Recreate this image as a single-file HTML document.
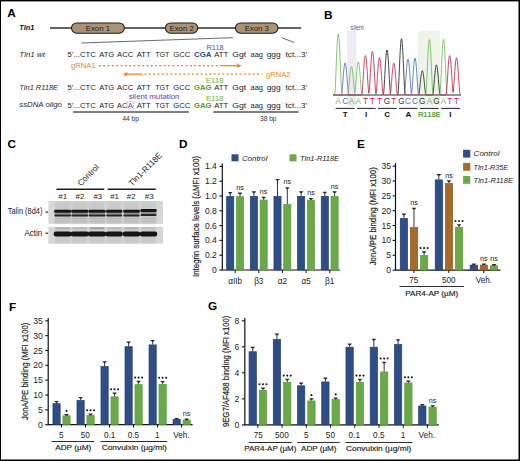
<!DOCTYPE html>
<html><head><meta charset="utf-8"><style>
html,body{margin:0;padding:0;background:#fff;width:520px;height:461px;overflow:hidden}
svg{display:block;font-family:"Liberation Sans", sans-serif}
</style></head><body>
<svg width="520" height="461" viewBox="0 0 520 461">
<rect x="0" y="0" width="520" height="461" fill="#000"/>
<rect x="1" y="1.4" width="517.5" height="458.1" fill="#fff"/>
<text x="7.30" y="17.00" font-size="11.8" text-anchor="start" fill="#000" font-weight="bold">A</text>
<text x="324.00" y="18.80" font-size="11.8" text-anchor="start" fill="#000" font-weight="bold">B</text>
<text x="7.60" y="147.90" font-size="11.8" text-anchor="start" fill="#000" font-weight="bold">C</text>
<text x="178.90" y="147.70" font-size="11.8" text-anchor="start" fill="#000" font-weight="bold">D</text>
<text x="356.90" y="147.70" font-size="11.8" text-anchor="start" fill="#000" font-weight="bold">E</text>
<text x="8.90" y="310.50" font-size="11.8" text-anchor="start" fill="#000" font-weight="bold">F</text>
<text x="208.00" y="309.50" font-size="11.8" text-anchor="start" fill="#000" font-weight="bold">G</text>
<text x="19.30" y="30.10" font-size="7.6" text-anchor="start" fill="#111" font-weight="bold" font-style="italic" textLength="15.20" lengthAdjust="spacingAndGlyphs">Tln1</text>
<line x1="50.00" y1="28.00" x2="301.20" y2="28.00" stroke="#303030" stroke-width="1.4" />
<rect x="71.50" y="22.9" width="52.90" height="10.3" rx="5.1" fill="#a99374" stroke="#1e1e1e" stroke-width="1.05"/>
<text x="97.90" y="31.00" font-size="7.8" text-anchor="middle" fill="#1a1a1a">Exon 1</text>
<rect x="165.40" y="22.9" width="32.30" height="10.3" rx="5.1" fill="#a99374" stroke="#1e1e1e" stroke-width="1.05"/>
<text x="181.60" y="31.00" font-size="7.8" text-anchor="middle" fill="#1a1a1a">Exon 2</text>
<rect x="235.40" y="22.9" width="42.60" height="10.3" rx="5.1" fill="#a99374" stroke="#1e1e1e" stroke-width="1.05"/>
<text x="256.80" y="31.00" font-size="7.8" text-anchor="middle" fill="#1a1a1a">Exon 3</text>
<line x1="81.20" y1="43.00" x2="232.80" y2="37.70" stroke="#5a5a5a" stroke-width="0.9" />
<line x1="281.50" y1="37.70" x2="294.40" y2="42.50" stroke="#5a5a5a" stroke-width="0.9" />
<text x="19.30" y="57.00" font-size="8.0" text-anchor="start" fill="#2a2a2a" font-style="italic" textLength="25.60" lengthAdjust="spacingAndGlyphs">Tln1 wt</text>
<text x="19.30" y="89.90" font-size="8.0" text-anchor="start" fill="#2a2a2a" font-style="italic" textLength="38.80" lengthAdjust="spacingAndGlyphs">Tln1 R118E</text>
<text x="19.30" y="107.40" font-size="8.0" text-anchor="start" fill="#2a2a2a" font-style="italic" textLength="42.60" lengthAdjust="spacingAndGlyphs">ssDNA oligo</text>
<text x="67.50" y="57.10" font-size="7.9" text-anchor="start" fill="#222" textLength="28.40" lengthAdjust="spacingAndGlyphs">5’...CTC</text>
<text x="99.20" y="57.10" font-size="7.9" text-anchor="start" fill="#222" textLength="14.90" lengthAdjust="spacingAndGlyphs">ATG</text>
<text x="117.10" y="57.10" font-size="7.9" text-anchor="start" fill="#222" textLength="16.30" lengthAdjust="spacingAndGlyphs">ACC</text>
<text x="136.70" y="57.10" font-size="7.9" text-anchor="start" fill="#222" textLength="14.00" lengthAdjust="spacingAndGlyphs">ATT</text>
<text x="155.20" y="57.10" font-size="7.9" text-anchor="start" fill="#222" textLength="14.30" lengthAdjust="spacingAndGlyphs">TGT</text>
<text x="173.30" y="57.10" font-size="7.9" text-anchor="start" fill="#222" textLength="17.00" lengthAdjust="spacingAndGlyphs">GCC</text>
<text x="194.00" y="57.10" font-size="7.9" text-anchor="start" fill="#1f4a8c" font-weight="bold" textLength="17.50" lengthAdjust="spacingAndGlyphs">CGA</text>
<text x="214.20" y="57.10" font-size="7.9" text-anchor="start" fill="#222" textLength="14.00" lengthAdjust="spacingAndGlyphs">ATT</text>
<text x="232.30" y="57.10" font-size="7.9" text-anchor="start" fill="#222" textLength="13.80" lengthAdjust="spacingAndGlyphs">Ggt</text>
<text x="250.60" y="57.10" font-size="7.9" text-anchor="start" fill="#222" textLength="12.40" lengthAdjust="spacingAndGlyphs">aag</text>
<text x="266.70" y="57.10" font-size="7.9" text-anchor="start" fill="#222" textLength="14.00" lengthAdjust="spacingAndGlyphs">ggg</text>
<text x="285.60" y="57.10" font-size="7.9" text-anchor="start" fill="#222" textLength="21.60" lengthAdjust="spacingAndGlyphs">tct...3’</text>
<text x="67.50" y="90.30" font-size="7.9" text-anchor="start" fill="#222" textLength="28.40" lengthAdjust="spacingAndGlyphs">5’...CTC</text>
<text x="99.20" y="90.30" font-size="7.9" text-anchor="start" fill="#222" textLength="14.90" lengthAdjust="spacingAndGlyphs">ATG</text>
<text x="117.10" y="90.30" font-size="7.9" text-anchor="start" fill="#222" textLength="16.30" lengthAdjust="spacingAndGlyphs">ACC</text>
<text x="136.70" y="90.30" font-size="7.9" text-anchor="start" fill="#222" textLength="14.00" lengthAdjust="spacingAndGlyphs">ATT</text>
<text x="155.20" y="90.30" font-size="7.9" text-anchor="start" fill="#222" textLength="14.30" lengthAdjust="spacingAndGlyphs">TGT</text>
<text x="173.30" y="90.30" font-size="7.9" text-anchor="start" fill="#222" textLength="17.00" lengthAdjust="spacingAndGlyphs">GCC</text>
<text x="194.00" y="90.30" font-size="7.9" text-anchor="start" fill="#4f9a2e" font-weight="bold" textLength="17.50" lengthAdjust="spacingAndGlyphs">GAG</text>
<text x="214.20" y="90.30" font-size="7.9" text-anchor="start" fill="#222" textLength="14.00" lengthAdjust="spacingAndGlyphs">ATT</text>
<text x="232.30" y="90.30" font-size="7.9" text-anchor="start" fill="#222" textLength="13.80" lengthAdjust="spacingAndGlyphs">Ggt</text>
<text x="250.60" y="90.30" font-size="7.9" text-anchor="start" fill="#222" textLength="12.40" lengthAdjust="spacingAndGlyphs">aag</text>
<text x="266.70" y="90.30" font-size="7.9" text-anchor="start" fill="#222" textLength="14.00" lengthAdjust="spacingAndGlyphs">ggg</text>
<text x="285.60" y="90.30" font-size="7.9" text-anchor="start" fill="#222" textLength="21.60" lengthAdjust="spacingAndGlyphs">tct...3’</text>
<text x="67.50" y="107.50" font-size="7.9" text-anchor="start" fill="#222" textLength="28.40" lengthAdjust="spacingAndGlyphs">5’...CTC</text>
<text x="99.20" y="107.50" font-size="7.9" text-anchor="start" fill="#222" textLength="14.90" lengthAdjust="spacingAndGlyphs">ATG</text>
<text x="117.10" y="107.50" font-size="7.9" text-anchor="start" fill="#222" textLength="10.00" lengthAdjust="spacingAndGlyphs">AC</text>
<text x="127.70" y="107.50" font-size="7.9" text-anchor="start" fill="#6b3e98">A</text>
<text x="136.70" y="107.50" font-size="7.9" text-anchor="start" fill="#222" textLength="14.00" lengthAdjust="spacingAndGlyphs">ATT</text>
<text x="155.20" y="107.50" font-size="7.9" text-anchor="start" fill="#222" textLength="14.30" lengthAdjust="spacingAndGlyphs">TGT</text>
<text x="173.30" y="107.50" font-size="7.9" text-anchor="start" fill="#222" textLength="17.00" lengthAdjust="spacingAndGlyphs">GCC</text>
<text x="194.00" y="107.50" font-size="7.9" text-anchor="start" fill="#4f9a2e" font-weight="bold" textLength="17.50" lengthAdjust="spacingAndGlyphs">GAG</text>
<text x="214.20" y="107.50" font-size="7.9" text-anchor="start" fill="#222" textLength="14.00" lengthAdjust="spacingAndGlyphs">ATT</text>
<text x="232.30" y="107.50" font-size="7.9" text-anchor="start" fill="#222" textLength="13.80" lengthAdjust="spacingAndGlyphs">Ggt</text>
<text x="250.60" y="107.50" font-size="7.9" text-anchor="start" fill="#222" textLength="12.40" lengthAdjust="spacingAndGlyphs">aag</text>
<text x="266.70" y="107.50" font-size="7.9" text-anchor="start" fill="#222" textLength="14.00" lengthAdjust="spacingAndGlyphs">ggg</text>
<text x="285.60" y="107.50" font-size="7.9" text-anchor="start" fill="#222" textLength="21.60" lengthAdjust="spacingAndGlyphs">tct...3’</text>
<rect x="127.2" y="101.6" width="6.4" height="7.0" fill="none" stroke="#7a5aa8" stroke-width="0.6" stroke-dasharray="0.8 0.8"/>
<text x="206.50" y="49.80" font-size="7.0" text-anchor="start" fill="#3b62a8" textLength="17.20" lengthAdjust="spacingAndGlyphs">R118</text>
<text x="205.70" y="83.20" font-size="7.0" text-anchor="start" fill="#6db34a" textLength="18.00" lengthAdjust="spacingAndGlyphs">E118</text>
<text x="206.00" y="100.90" font-size="7.0" text-anchor="start" fill="#6db34a" textLength="17.70" lengthAdjust="spacingAndGlyphs">E118</text>
<text x="128.70" y="99.00" font-size="7.0" text-anchor="start" fill="#6b3e98" textLength="50.80" lengthAdjust="spacingAndGlyphs">silent mutation</text>
<text x="71.00" y="68.00" font-size="7.9" text-anchor="start" fill="#e08c28" textLength="24.40" lengthAdjust="spacingAndGlyphs">gRNA1</text>
<line x1="98.80" y1="65.70" x2="223.00" y2="65.70" stroke="#e08c28" stroke-width="1.3" stroke-dasharray="2.1 2.23"/>
<line x1="222.50" y1="65.70" x2="238.50" y2="65.70" stroke="#e08c28" stroke-width="1.3" />
<path d="M241.6 65.7 L236.6 63.2 L237.8 65.7 L236.6 68.2 Z" fill="#e08c28"/>
<line x1="144.30" y1="74.20" x2="261.80" y2="74.20" stroke="#e08c28" stroke-width="1.3" stroke-dasharray="2.1 2.23"/>
<line x1="125.50" y1="74.20" x2="142.60" y2="74.20" stroke="#e08c28" stroke-width="1.3" />
<path d="M122.8 74.2 L127.8 71.7 L126.6 74.2 L127.8 76.7 Z" fill="#e08c28"/>
<text x="266.00" y="77.00" font-size="7.9" text-anchor="start" fill="#e08c28" textLength="24.40" lengthAdjust="spacingAndGlyphs">gRNA2</text>
<line x1="73.10" y1="111.90" x2="188.80" y2="111.90" stroke="#555" stroke-width="1.5" />
<line x1="213.30" y1="111.90" x2="298.40" y2="111.90" stroke="#555" stroke-width="1.5" />
<text x="130.70" y="120.60" font-size="6.6" text-anchor="middle" fill="#333">44 bp</text>
<text x="268.30" y="121.20" font-size="6.6" text-anchor="middle" fill="#333">38 bp</text>
<rect x="347.80" y="31.20" width="8.00" height="74.60" fill="#efebf3" stroke="#d6cde2" stroke-width="0.5" stroke-dasharray="0.8 0.8"/>
<rect x="418.10" y="31.20" width="21.50" height="74.60" fill="#eef4ea" stroke="#dce8d4" stroke-width="0.5" stroke-dasharray="0.8 0.8"/>
<text x="350.60" y="29.80" font-size="6.6" text-anchor="start" fill="#6a4c92" textLength="13.20" lengthAdjust="spacingAndGlyphs">silent</text>
<polyline points="333.00,95.01 333.20,95.02 333.40,95.04 333.60,95.06 333.80,95.08 334.00,95.09 334.20,95.07 334.40,95.04 334.60,95.02 334.80,95.01 335.00,95.00 335.20,95.00 335.40,95.01 335.60,95.02 335.80,95.04 336.00,95.06 336.20,95.08 336.40,95.09 336.60,95.07 336.80,95.04 337.00,95.02 337.20,95.01 337.40,95.00 337.60,95.00 337.80,95.01 338.00,95.02 338.20,95.03 338.40,95.05 338.60,95.08 338.80,95.09 339.00,95.07 339.20,95.05 339.40,95.03 339.60,95.01 339.80,95.00 340.00,95.00 340.20,95.00 340.40,95.02 340.60,95.03 340.80,95.05 341.00,95.08 341.20,95.10 341.40,95.07 341.60,95.05 341.80,95.03 342.00,95.01 342.20,95.00 342.40,95.00 342.60,95.00 342.80,95.01 343.00,95.03 343.20,95.05 343.40,95.08 343.60,95.10 343.80,95.07 344.00,95.05 344.20,95.03 344.40,95.01 344.60,95.00 344.80,95.00 345.00,95.00 345.20,95.01 345.40,95.03 345.60,95.05 345.80,95.07 346.00,95.10 346.20,95.08 346.40,95.05 346.60,95.03 346.80,95.01 347.00,95.00 347.20,95.00 347.40,95.00 347.60,95.01 347.80,95.03 348.00,95.05 348.20,95.07 348.40,95.10 348.60,95.08 348.80,95.05 349.00,95.03 349.20,95.02 349.40,95.00 349.60,95.00 349.80,95.00 350.00,95.01 350.20,95.03 350.40,95.05 350.60,95.07 350.80,95.09 351.00,95.08 351.20,95.06 351.40,95.03 351.60,95.02 351.80,95.01 352.00,95.00 352.20,95.00 352.40,95.01 352.60,95.02 352.80,95.04 353.00,95.07 353.20,95.09 353.40,95.08 353.60,95.06 353.80,95.04 354.00,95.02 354.20,95.01 354.40,95.00 354.60,95.00 354.80,95.01 355.00,95.02 355.20,95.04 355.40,95.06 355.60,95.09 355.80,95.08 356.00,95.06 356.20,95.04 356.40,95.02 356.60,95.01 356.80,95.00 357.00,95.00 357.20,95.01 357.40,95.02 357.60,95.04 357.80,95.06 358.00,95.09 358.20,95.09 358.40,95.06 358.60,95.04 358.80,95.02 359.00,95.01 359.20,95.00 359.40,95.00 359.60,95.01 359.80,95.02 360.00,95.04 360.20,95.06 360.40,95.09 360.60,95.09 360.80,95.06 361.00,95.04 361.20,95.02 361.40,95.01 361.60,95.00 361.80,95.00 362.00,95.01 362.20,95.02 362.40,95.04 362.60,95.06 362.80,95.08 363.00,95.09 363.20,95.07 363.40,95.04 363.60,95.02 363.80,95.01 364.00,95.00 364.20,95.00 364.40,95.01 364.60,95.02 364.80,95.04 365.00,95.06 365.20,95.08 365.40,95.09 365.60,95.07 365.80,95.04 366.00,95.02 366.20,95.01 366.40,95.00 366.60,95.00 366.80,95.01 367.00,95.02 367.20,95.03 367.40,95.05 367.60,95.08 367.80,95.09 368.00,95.07 368.20,95.05 368.40,95.03 368.60,95.01 368.80,95.00 369.00,95.00 369.20,95.00 369.40,95.02 369.60,95.03 369.80,95.05 370.00,95.08 370.20,95.10 370.40,95.07 370.60,95.05 370.80,95.03 371.00,95.01 371.20,95.00 371.40,95.00 371.60,95.00 371.80,95.01 372.00,95.03 372.20,95.05 372.40,95.08 372.60,95.10 372.80,95.07 373.00,95.05 373.20,95.03 373.40,95.01 373.60,95.00 373.80,95.00 374.00,95.00 374.20,95.01 374.40,95.03 374.60,95.05 374.80,95.07 375.00,95.10 375.20,95.08 375.40,95.05 375.60,95.03 375.80,95.01 376.00,95.00 376.20,95.00 376.40,95.00 376.60,95.01 376.80,95.03 377.00,95.05 377.20,95.07 377.40,95.10 377.60,95.08 377.80,95.05 378.00,95.03 378.20,95.02 378.40,95.00 378.60,95.00 378.80,95.00 379.00,95.01 379.20,95.03 379.40,95.05 379.60,95.07 379.80,95.09 380.00,95.08 380.20,95.06 380.40,95.03 380.60,95.02 380.80,95.01 381.00,95.00 381.20,95.00 381.40,95.01 381.60,95.02 381.80,95.04 382.00,95.07 382.20,95.09 382.40,95.08 382.60,95.06 382.80,95.04 383.00,95.02 383.20,95.01 383.40,94.72 383.60,93.57 383.80,91.68 384.00,89.18 384.20,86.21 384.40,82.90 384.60,79.37 384.80,75.69 385.00,71.97 385.20,68.33 385.40,64.84 385.60,61.60 385.80,58.66 386.00,56.09 386.20,53.92 386.40,52.20 386.60,50.96 386.80,50.22 387.00,49.99 387.20,50.24 387.40,50.98 387.60,52.22 387.80,53.93 388.00,56.09 388.20,58.66 388.40,61.60 388.60,64.83 388.80,68.31 389.00,71.95 389.20,75.66 389.40,79.37 389.60,82.93 389.80,86.23 390.00,89.20 390.20,91.69 390.40,93.58 390.60,94.72 390.80,95.00 391.00,95.01 391.20,95.02 391.40,95.04 391.60,95.06 391.80,95.08 392.00,95.09 392.20,95.07 392.40,95.04 392.60,95.02 392.80,95.01 393.00,95.00 393.20,95.00 393.40,95.01 393.60,95.02 393.80,95.04 394.00,95.06 394.20,95.08 394.40,95.09 394.60,95.07 394.80,95.04 395.00,95.02 395.20,95.01 395.40,95.00 395.60,95.00 395.80,95.01 396.00,95.02 396.20,95.03 396.40,95.06 396.60,95.08 396.80,95.09 397.00,95.07 397.20,95.05 397.40,95.03 397.60,95.01 397.80,94.96 398.00,94.06 398.20,92.13 398.40,89.36 398.60,85.92 398.80,81.97 399.00,77.67 399.20,73.15 399.40,68.50 399.60,63.89 399.80,59.43 400.00,55.22 400.20,51.34 400.40,47.89 400.60,44.91 400.80,42.48 401.00,40.62 401.20,39.37 401.40,38.76 401.60,38.78 401.80,39.39 402.00,40.64 402.20,42.49 402.40,44.92 402.60,47.89 402.80,51.34 403.00,55.21 403.20,59.41 403.40,63.87 403.60,68.48 403.80,73.12 404.00,77.69 404.20,81.99 404.40,85.94 404.60,89.38 404.80,92.14 405.00,94.07 405.20,94.96 405.40,95.00 405.60,95.01 405.80,95.03 406.00,95.05 406.20,95.07 406.40,95.10 406.60,95.08 406.80,95.05 407.00,95.03 407.20,95.02 407.40,95.00 407.60,95.00 407.80,95.00 408.00,95.01 408.20,95.03 408.40,95.05 408.60,95.07 408.80,95.09 409.00,95.08 409.20,95.06 409.40,95.03 409.60,95.02 409.80,95.01 410.00,95.00 410.20,95.00 410.40,95.01 410.60,95.02 410.80,95.04 411.00,95.07 411.20,95.09 411.40,95.08 411.60,95.06 411.80,95.04 412.00,95.02 412.20,95.01 412.40,95.00 412.60,95.00 412.80,95.01 413.00,95.02 413.20,95.04 413.40,95.06 413.60,95.09 413.80,95.08 414.00,95.06 414.20,95.04 414.40,95.02 414.60,95.01 414.80,95.00 415.00,95.00 415.20,95.01 415.40,95.02 415.60,95.04 415.80,95.06 416.00,95.09 416.20,95.09 416.40,95.06 416.60,95.04 416.80,95.02 417.00,95.01 417.20,95.00 417.40,95.00 417.60,95.01 417.80,95.02 418.00,95.04 418.20,95.06 418.40,95.09 418.60,95.07 418.80,94.66 419.00,93.80 419.20,92.59 419.40,91.08 419.60,89.37 419.80,87.50 420.00,85.55 420.20,83.57 420.40,81.61 420.60,79.72 420.80,77.94 421.00,76.28 421.20,74.77 421.40,73.46 421.60,72.39 421.80,71.57 422.00,71.01 422.20,70.73 422.40,70.74 422.60,71.03 422.80,71.59 423.00,72.42 423.20,73.50 423.40,74.79 423.60,76.26 423.80,77.90 424.00,79.69 424.20,81.58 424.40,83.55 424.60,85.54 424.80,87.51 425.00,89.38 425.20,91.11 425.40,92.62 425.60,93.84 425.80,94.69 426.00,95.05 426.20,95.05 426.40,95.03 426.60,95.01 426.80,95.00 427.00,95.00 427.20,95.00 427.40,95.02 427.60,95.03 427.80,95.05 428.00,95.08 428.20,95.10 428.40,95.07 428.60,95.05 428.80,95.03 429.00,95.01 429.20,95.00 429.40,95.00 429.60,95.00 429.80,95.01 430.00,95.03 430.20,95.05 430.40,95.08 430.60,95.10 430.80,95.07 431.00,95.05 431.20,95.03 431.40,95.01 431.60,95.00 431.80,95.00 432.00,95.00 432.20,95.01 432.40,95.03 432.60,95.05 432.80,94.89 433.00,94.15 433.20,92.85 433.40,91.15 433.60,89.14 433.80,86.90 434.00,84.51 434.20,82.05 434.40,79.59 434.60,77.18 434.80,74.89 435.00,72.75 435.20,70.82 435.40,69.13 435.60,67.65 435.80,66.47 436.00,65.61 436.20,65.09 436.40,64.90 436.60,65.07 436.80,65.58 437.00,66.43 437.20,67.60 437.40,69.07 437.60,70.82 437.80,72.80 438.00,74.94 438.20,77.23 438.40,79.62 438.60,82.07 438.80,84.51 439.00,86.88 439.20,89.11 439.40,91.11 439.60,92.80 439.80,94.09 440.00,94.88 440.20,95.09 440.40,95.08 440.60,95.06 440.80,95.04 441.00,95.02 441.20,95.01 441.40,95.00 441.60,95.00 441.80,95.01 442.00,95.02 442.20,95.04 442.40,95.07 442.60,95.09 442.80,95.08 443.00,95.06 443.20,95.04 443.40,95.02 443.60,95.01 443.80,95.00 444.00,95.00 444.20,95.01 444.40,95.02 444.60,95.04 444.80,95.06 445.00,95.09 445.20,95.09 445.40,95.06 445.60,95.04 445.80,95.02 446.00,95.01 446.20,95.00 446.40,95.00 446.60,95.01 446.80,95.02 447.00,95.04 447.20,95.06 447.40,95.09 447.60,95.09 447.80,95.06 448.00,95.04 448.20,95.02 448.40,95.01 448.60,95.00 448.80,95.00 449.00,95.01 449.20,95.02 449.40,95.04 449.60,95.06 449.80,95.08 450.00,95.09 450.20,95.06 450.40,95.04 450.60,95.02 450.80,95.01 451.00,95.00 451.20,95.00 451.40,95.01 451.60,95.02 451.80,95.04 452.00,95.06 452.20,95.08 452.40,95.09 452.60,95.07 452.80,95.04 453.00,95.02 453.20,95.01 453.40,95.00 453.60,95.00 453.80,95.01 454.00,95.02 454.20,95.03 454.40,95.06 454.60,95.08 454.80,95.09 455.00,95.07 455.20,95.05 455.40,95.03 455.60,95.01 455.80,95.00 456.00,95.00 456.20,95.00 456.40,95.02 456.60,95.03 456.80,95.05 457.00,95.08 457.20,95.10 457.40,95.07 457.60,95.05 457.80,95.03 458.00,95.01 458.20,95.00 458.40,95.00 458.60,95.00 458.80,95.01 459.00,95.03 459.20,95.05 459.40,95.08 459.60,95.10 459.80,95.07 460.00,95.05 460.20,95.03 460.40,95.01 460.60,95.00" fill="none" stroke="#222222" stroke-width="0.85" stroke-linejoin="round"/>
<polyline points="333.00,95.02 333.20,95.04 333.40,95.07 333.60,95.09 333.80,95.08 334.00,95.06 334.20,95.04 334.40,95.02 334.60,95.01 334.80,95.00 335.00,95.00 335.20,95.01 335.40,95.02 335.60,95.04 335.80,95.06 336.00,95.09 336.20,95.08 336.40,95.06 336.60,95.04 336.80,95.02 337.00,95.01 337.20,95.00 337.40,95.00 337.60,95.01 337.80,95.02 338.00,95.04 338.20,95.06 338.40,95.09 338.60,95.09 338.80,95.06 339.00,95.04 339.20,95.02 339.40,95.01 339.60,95.00 339.80,95.00 340.00,95.01 340.20,95.02 340.40,95.04 340.60,95.06 340.80,95.09 341.00,95.09 341.20,95.06 341.40,95.02 341.60,94.49 341.80,93.37 342.00,91.78 342.20,89.81 342.40,87.56 342.60,85.11 342.80,82.54 343.00,79.93 343.20,77.35 343.40,74.83 343.60,72.42 343.80,70.19 344.00,68.21 344.20,66.50 344.40,65.10 344.60,64.03 344.80,63.32 345.00,62.96 345.20,62.98 345.40,63.37 345.60,64.11 345.80,65.19 346.00,66.56 346.20,68.23 346.40,70.18 346.60,72.36 346.80,74.74 347.00,77.27 347.20,79.88 347.40,82.52 347.60,85.13 347.80,87.61 348.00,89.89 348.20,91.88 348.40,93.44 348.60,94.51 348.80,95.00 349.00,95.01 349.20,95.00 349.40,95.00 349.60,95.00 349.80,95.02 350.00,95.03 350.20,95.05 350.40,95.08 350.60,95.10 350.80,95.07 351.00,95.05 351.20,95.03 351.40,95.01 351.60,95.00 351.80,95.00 352.00,95.00 352.20,95.01 352.40,95.03 352.60,95.05 352.80,95.07 353.00,95.10 353.20,95.07 353.40,95.05 353.60,95.03 353.80,95.01 354.00,95.00 354.20,95.00 354.40,95.00 354.60,95.01 354.80,95.03 355.00,95.05 355.20,95.07 355.40,95.10 355.60,95.08 355.80,95.05 356.00,95.03 356.20,95.01 356.40,95.00 356.60,95.00 356.80,95.00 357.00,95.01 357.20,95.03 357.40,95.05 357.60,95.07 357.80,95.10 358.00,95.08 358.20,95.05 358.40,95.03 358.60,95.02 358.80,95.00 359.00,95.00 359.20,95.00 359.40,95.01 359.60,95.03 359.80,95.05 360.00,95.07 360.20,95.09 360.40,95.08 360.60,95.06 360.80,95.03 361.00,95.02 361.20,95.01 361.40,95.00 361.60,95.00 361.80,95.01 362.00,95.02 362.20,95.04 362.40,95.07 362.60,95.09 362.80,95.08 363.00,95.06 363.20,95.04 363.40,95.02 363.60,95.01 363.80,95.00 364.00,95.00 364.20,95.01 364.40,95.02 364.60,95.04 364.80,95.06 365.00,95.09 365.20,95.08 365.40,95.06 365.60,95.04 365.80,95.02 366.00,95.01 366.20,95.00 366.40,95.00 366.60,95.01 366.80,95.02 367.00,95.04 367.20,95.06 367.40,95.09 367.60,95.09 367.80,95.06 368.00,95.04 368.20,95.02 368.40,95.01 368.60,95.00 368.80,95.00 369.00,95.01 369.20,95.02 369.40,95.04 369.60,95.06 369.80,95.09 370.00,95.09 370.20,95.06 370.40,95.04 370.60,95.02 370.80,95.01 371.00,95.00 371.20,95.00 371.40,95.01 371.60,95.02 371.80,95.04 372.00,95.06 372.20,95.08 372.40,95.09 372.60,95.07 372.80,95.04 373.00,95.02 373.20,95.01 373.40,95.00 373.60,95.00 373.80,95.01 374.00,95.02 374.20,95.03 374.40,95.06 374.60,95.08 374.80,95.09 375.00,95.07 375.20,95.04 375.40,95.02 375.60,95.01 375.80,95.00 376.00,95.00 376.20,95.01 376.40,95.02 376.60,95.03 376.80,95.05 377.00,95.08 377.20,95.10 377.40,95.07 377.60,95.05 377.80,95.03 378.00,95.01 378.20,95.00 378.40,95.00 378.60,95.00 378.80,95.02 379.00,95.03 379.20,95.05 379.40,95.08 379.60,95.10 379.80,95.07 380.00,95.05 380.20,95.03 380.40,95.01 380.60,95.00 380.80,95.00 381.00,95.00 381.20,95.01 381.40,95.03 381.60,95.05 381.80,95.07 382.00,95.10 382.20,95.07 382.40,95.05 382.60,95.03 382.80,95.01 383.00,95.00 383.20,95.00 383.40,95.00 383.60,95.01 383.80,95.03 384.00,95.05 384.20,95.07 384.40,95.10 384.60,95.08 384.80,95.05 385.00,95.03 385.20,95.01 385.40,95.00 385.60,95.00 385.80,95.00 386.00,95.01 386.20,95.03 386.40,95.05 386.60,95.07 386.80,95.10 387.00,95.08 387.20,95.05 387.40,95.03 387.60,95.02 387.80,95.00 388.00,95.00 388.20,95.00 388.40,95.01 388.60,95.03 388.80,95.05 389.00,95.07 389.20,95.09 389.40,95.08 389.60,95.06 389.80,95.03 390.00,95.02 390.20,95.01 390.40,95.00 390.60,95.00 390.80,95.01 391.00,95.02 391.20,95.04 391.40,95.07 391.60,95.09 391.80,95.08 392.00,95.06 392.20,95.04 392.40,95.02 392.60,95.01 392.80,95.00 393.00,95.00 393.20,95.01 393.40,95.02 393.60,95.04 393.80,95.06 394.00,95.09 394.20,95.08 394.40,95.06 394.60,95.04 394.80,95.02 395.00,95.01 395.20,95.00 395.40,95.00 395.60,95.01 395.80,95.02 396.00,95.04 396.20,95.06 396.40,95.09 396.60,95.09 396.80,95.06 397.00,95.04 397.20,95.02 397.40,95.01 397.60,95.00 397.80,95.00 398.00,95.01 398.20,95.02 398.40,95.04 398.60,95.06 398.80,95.09 399.00,95.09 399.20,95.06 399.40,95.04 399.60,95.02 399.80,95.01 400.00,95.00 400.20,95.00 400.40,95.01 400.60,95.02 400.80,95.04 401.00,95.06 401.20,95.08 401.40,95.09 401.60,95.07 401.80,95.04 402.00,95.02 402.20,95.01 402.40,95.00 402.60,95.00 402.80,95.01 403.00,95.02 403.20,95.03 403.40,95.06 403.60,95.08 403.80,95.09 404.00,95.07 404.20,95.04 404.40,94.80 404.60,93.87 404.80,92.35 405.00,90.35 405.20,87.98 405.40,85.34 405.60,82.52 405.80,79.61 406.00,76.70 406.20,73.83 406.40,71.05 406.60,68.46 406.80,66.10 407.00,64.04 407.20,62.30 407.40,60.91 407.60,59.92 407.80,59.32 408.00,59.13 408.20,59.36 408.40,59.99 408.60,61.01 408.80,62.37 409.00,64.07 409.20,66.10 409.40,68.42 409.60,70.98 409.80,73.74 410.00,76.62 410.20,79.57 410.40,82.52 410.60,85.37 410.80,88.05 411.00,90.45 411.20,92.42 411.40,93.69 411.60,93.64 411.80,92.28 412.00,90.21 412.20,87.76 412.40,85.03 412.60,82.12 412.80,79.11 413.00,76.10 413.20,73.16 413.40,70.34 413.60,67.67 413.80,65.24 414.00,63.11 414.20,61.31 414.40,59.87 414.60,58.84 414.80,58.21 415.00,58.01 415.20,58.24 415.40,58.88 415.60,59.94 415.80,61.39 416.00,63.15 416.20,65.24 416.40,67.63 416.60,70.26 416.80,73.09 417.00,76.06 417.20,79.09 417.40,82.11 417.60,85.05 417.80,87.80 418.00,90.27 418.20,92.36 418.40,93.91 418.60,94.83 418.80,95.03 419.00,95.02 419.20,95.01 419.40,95.00 419.60,95.00 419.80,95.01 420.00,95.02 420.20,95.04 420.40,95.07 420.60,95.09 420.80,95.08 421.00,95.06 421.20,95.04 421.40,95.02 421.60,95.01 421.80,95.00 422.00,95.00 422.20,95.01 422.40,95.02 422.60,95.04 422.80,95.06 423.00,95.09 423.20,95.08 423.40,95.06 423.60,95.04 423.80,95.02 424.00,95.01 424.20,95.00 424.40,95.00 424.60,95.01 424.80,95.02 425.00,95.04 425.20,95.06 425.40,95.09 425.60,95.09 425.80,95.06 426.00,95.04 426.20,95.02 426.40,95.01 426.60,95.00 426.80,95.00 427.00,95.01 427.20,95.02 427.40,95.04 427.60,95.06 427.80,95.09 428.00,95.09 428.20,95.06 428.40,95.04 428.60,95.02 428.80,95.01 429.00,95.00 429.20,95.00 429.40,95.01 429.60,95.02 429.80,95.04 430.00,95.06 430.20,95.08 430.40,95.09 430.60,95.07 430.80,95.04 431.00,95.02 431.20,95.01 431.40,95.00 431.60,95.00 431.80,95.01 432.00,95.02 432.20,95.03 432.40,95.06 432.60,95.08 432.80,95.09 433.00,95.07 433.20,95.04 433.40,95.02 433.60,95.01 433.80,95.00 434.00,95.00 434.20,95.01 434.40,95.02 434.60,95.03 434.80,95.05 435.00,95.08 435.20,95.10 435.40,95.07 435.60,95.05 435.80,95.03 436.00,95.01 436.20,95.00 436.40,95.00 436.60,95.00 436.80,95.02 437.00,95.03 437.20,95.05 437.40,95.08 437.60,95.10 437.80,95.07 438.00,95.05 438.20,95.03 438.40,95.01 438.60,95.00 438.80,95.00 439.00,95.00 439.20,95.01 439.40,95.03 439.60,95.05 439.80,95.07 440.00,95.10 440.20,95.07 440.40,95.05 440.60,95.03 440.80,95.01 441.00,95.00 441.20,95.00 441.40,95.00 441.60,95.01 441.80,95.03 442.00,95.05 442.20,95.07 442.40,95.10 442.60,95.08 442.80,95.05 443.00,95.03 443.20,95.01 443.40,95.00 443.60,95.00 443.80,95.00 444.00,95.01 444.20,95.03 444.40,95.05 444.60,95.07 444.80,95.10 445.00,95.08 445.20,95.05 445.40,95.03 445.60,95.02 445.80,95.00 446.00,95.00 446.20,95.00 446.40,95.01 446.60,95.03 446.80,95.05 447.00,95.07 447.20,95.09 447.40,95.08 447.60,95.06 447.80,95.03 448.00,95.02 448.20,95.01 448.40,95.00 448.60,95.00 448.80,95.01 449.00,95.02 449.20,95.04 449.40,95.07 449.60,95.09 449.80,95.08 450.00,95.06 450.20,95.04 450.40,95.02 450.60,95.01 450.80,95.00 451.00,95.00 451.20,95.01 451.40,95.02 451.60,95.04 451.80,95.06 452.00,95.09 452.20,95.08 452.40,95.06 452.60,95.04 452.80,95.02 453.00,95.01 453.20,95.00 453.40,95.00 453.60,95.01 453.80,95.02 454.00,95.04 454.20,95.06 454.40,95.09 454.60,95.09 454.80,95.06 455.00,95.04 455.20,95.02 455.40,95.01 455.60,95.00 455.80,95.00 456.00,95.01 456.20,95.02 456.40,95.04 456.60,95.06 456.80,95.09 457.00,95.09 457.20,95.06 457.40,95.04 457.60,95.02 457.80,95.01 458.00,95.00 458.20,95.00 458.40,95.01 458.60,95.02 458.80,95.04 459.00,95.06 459.20,95.08 459.40,95.09 459.60,95.07 459.80,95.04 460.00,95.02 460.20,95.01 460.40,95.00 460.60,95.00" fill="none" stroke="#4d6fb0" stroke-width="0.85" stroke-linejoin="round"/>
<polyline points="333.00,95.02 333.20,95.01 333.40,95.00 333.60,95.00 333.80,95.01 334.00,95.02 334.20,95.04 334.40,95.06 334.60,95.04 334.80,94.08 335.00,91.96 335.20,88.92 335.40,85.15 335.60,80.84 335.80,76.14 336.00,71.22 336.20,66.22 336.40,61.26 336.60,56.47 336.80,51.94 337.00,47.78 337.20,44.06 337.40,40.81 337.60,38.13 337.80,36.08 338.00,34.69 338.20,33.99 338.40,33.99 338.60,34.68 338.80,36.07 339.00,38.12 339.20,40.79 339.40,44.04 339.60,47.80 339.80,51.96 340.00,56.48 340.20,61.27 340.40,66.23 340.60,71.23 340.80,76.14 341.00,80.83 341.20,85.14 341.40,88.91 341.60,91.94 341.80,94.06 342.00,95.06 342.20,95.07 342.40,95.05 342.60,95.03 342.80,95.01 343.00,95.00 343.20,95.00 343.40,95.00 343.60,95.01 343.80,95.03 344.00,95.05 344.20,95.07 344.40,95.10 344.60,95.08 344.80,95.05 345.00,95.03 345.20,95.01 345.40,95.00 345.60,95.00 345.80,95.00 346.00,95.01 346.20,95.03 346.40,95.05 346.60,95.07 346.80,95.10 347.00,95.08 347.20,95.05 347.40,95.03 347.60,95.02 347.80,94.98 348.00,94.53 348.20,93.56 348.40,92.17 348.60,90.45 348.80,88.48 349.00,86.33 349.20,84.08 349.40,81.75 349.60,79.42 349.80,77.17 350.00,75.05 350.20,73.10 350.40,71.36 350.60,69.87 350.80,68.65 351.00,67.72 351.20,67.11 351.40,66.81 351.60,66.83 351.80,67.14 352.00,67.75 352.20,68.67 352.40,69.88 352.60,71.37 352.80,73.09 353.00,75.03 353.20,77.15 353.40,79.39 353.60,81.71 353.80,84.05 354.00,86.36 354.20,88.52 354.40,90.49 354.60,92.18 354.80,93.03 355.00,92.85 355.20,91.66 355.40,89.65 355.60,87.33 355.80,84.81 356.00,82.16 356.20,79.47 356.40,76.80 356.60,74.19 356.80,71.71 357.00,69.42 357.20,67.37 357.40,65.61 357.60,64.17 357.80,63.07 358.00,62.33 358.20,61.97 358.40,61.99 358.60,62.38 358.80,63.15 359.00,64.25 359.20,65.67 359.40,67.39 359.60,69.40 359.80,71.65 360.00,74.11 360.20,76.71 360.40,79.41 360.60,82.14 360.80,84.82 361.00,87.38 361.20,89.74 361.40,91.77 361.60,93.38 361.80,94.49 362.00,95.00 362.20,95.01 362.40,95.00 362.60,95.00 362.80,95.01 363.00,95.02 363.20,95.04 363.40,95.06 363.60,95.08 363.80,95.09 364.00,95.07 364.20,95.04 364.40,95.02 364.60,95.01 364.80,95.00 365.00,95.00 365.20,95.01 365.40,95.02 365.60,95.03 365.80,95.06 366.00,95.08 366.20,95.09 366.40,95.07 366.60,95.05 366.80,95.03 367.00,95.01 367.20,95.00 367.40,95.00 367.60,95.00 367.80,95.02 368.00,95.03 368.20,95.05 368.40,95.08 368.60,95.10 368.80,95.07 369.00,95.05 369.20,95.03 369.40,95.01 369.60,95.00 369.80,95.00 370.00,95.00 370.20,95.01 370.40,95.03 370.60,95.05 370.80,95.08 371.00,95.10 371.20,95.07 371.40,95.05 371.60,95.03 371.80,95.01 372.00,95.00 372.20,95.00 372.40,95.00 372.60,95.01 372.80,95.03 373.00,95.05 373.20,95.07 373.40,95.10 373.60,95.08 373.80,95.05 374.00,95.03 374.20,95.01 374.40,95.00 374.60,95.00 374.80,95.00 375.00,95.01 375.20,95.03 375.40,95.05 375.60,95.07 375.80,95.10 376.00,95.08 376.20,95.05 376.40,95.03 376.60,95.02 376.80,95.00 377.00,95.00 377.20,95.00 377.40,95.01 377.60,95.03 377.80,95.05 378.00,95.07 378.20,95.09 378.40,95.08 378.60,95.05 378.80,95.03 379.00,95.02 379.20,95.01 379.40,95.00 379.60,95.00 379.80,95.01 380.00,95.02 380.20,95.04 380.40,95.07 380.60,95.09 380.80,95.08 381.00,95.06 381.20,95.04 381.40,95.02 381.60,95.01 381.80,95.00 382.00,95.00 382.20,95.01 382.40,95.02 382.60,95.04 382.80,95.07 383.00,95.09 383.20,95.08 383.40,95.06 383.60,95.04 383.80,95.02 384.00,95.01 384.20,95.00 384.40,95.00 384.60,95.01 384.80,95.02 385.00,95.04 385.20,95.06 385.40,95.09 385.60,95.09 385.80,95.06 386.00,95.04 386.20,95.02 386.40,95.01 386.60,95.00 386.80,95.00 387.00,95.01 387.20,95.02 387.40,95.04 387.60,95.06 387.80,95.09 388.00,95.09 388.20,95.06 388.40,95.04 388.60,95.02 388.80,95.01 389.00,95.00 389.20,95.00 389.40,95.01 389.60,95.02 389.80,95.04 390.00,95.06 390.20,95.08 390.40,95.09 390.60,95.06 390.80,95.04 391.00,95.02 391.20,95.01 391.40,95.00 391.60,95.00 391.80,95.01 392.00,95.02 392.20,95.04 392.40,95.06 392.60,95.08 392.80,95.09 393.00,95.07 393.20,95.04 393.40,95.02 393.60,95.01 393.80,95.00 394.00,95.00 394.20,95.01 394.40,95.02 394.60,95.03 394.80,95.06 395.00,95.08 395.20,95.09 395.40,95.07 395.60,95.05 395.80,95.03 396.00,95.01 396.20,95.00 396.40,95.00 396.60,95.00 396.80,95.02 397.00,95.03 397.20,95.05 397.40,95.08 397.60,95.10 397.80,95.07 398.00,95.05 398.20,95.03 398.40,95.01 398.60,95.00 398.80,95.00 399.00,95.00 399.20,95.01 399.40,95.03 399.60,95.05 399.80,95.08 400.00,95.10 400.20,95.07 400.40,95.05 400.60,95.03 400.80,95.01 401.00,95.00 401.20,95.00 401.40,95.00 401.60,95.01 401.80,95.03 402.00,95.05 402.20,95.07 402.40,95.10 402.60,95.08 402.80,95.05 403.00,95.03 403.20,95.01 403.40,95.00 403.60,95.00 403.80,95.00 404.00,95.01 404.20,95.03 404.40,95.05 404.60,95.07 404.80,95.10 405.00,95.08 405.20,95.05 405.40,95.03 405.60,95.02 405.80,95.00 406.00,95.00 406.20,95.00 406.40,95.01 406.60,95.03 406.80,95.05 407.00,95.07 407.20,95.09 407.40,95.08 407.60,95.05 407.80,95.03 408.00,95.02 408.20,95.01 408.40,95.00 408.60,95.00 408.80,95.01 409.00,95.02 409.20,95.04 409.40,95.07 409.60,95.09 409.80,95.08 410.00,95.06 410.20,95.04 410.40,95.02 410.60,95.01 410.80,95.00 411.00,95.00 411.20,95.01 411.40,95.02 411.60,95.04 411.80,95.07 412.00,95.09 412.20,95.08 412.40,95.06 412.60,95.04 412.80,95.02 413.00,95.01 413.20,95.00 413.40,95.00 413.60,95.01 413.80,95.02 414.00,95.04 414.20,95.06 414.40,95.09 414.60,95.09 414.80,95.06 415.00,95.04 415.20,95.02 415.40,95.01 415.60,95.00 415.80,95.00 416.00,95.01 416.20,95.02 416.40,95.04 416.60,95.06 416.80,95.09 417.00,95.09 417.20,95.06 417.40,95.04 417.60,95.02 417.80,95.01 418.00,95.00 418.20,95.00 418.40,95.01 418.60,95.02 418.80,95.04 419.00,95.06 419.20,95.08 419.40,95.09 419.60,95.06 419.80,95.04 420.00,95.02 420.20,95.01 420.40,95.00 420.60,95.00 420.80,95.01 421.00,95.02 421.20,95.04 421.40,95.06 421.60,95.08 421.80,95.09 422.00,95.07 422.20,95.04 422.40,95.02 422.60,95.01 422.80,95.00 423.00,95.00 423.20,95.01 423.40,95.02 423.60,95.03 423.80,95.06 424.00,95.08 424.20,95.09 424.40,95.07 424.60,95.05 424.80,95.03 425.00,95.01 425.20,95.00 425.40,95.00 425.60,95.00 425.80,94.67 426.00,93.27 426.20,90.95 426.40,87.88 426.60,84.23 426.80,80.10 427.00,75.70 427.20,71.16 427.40,66.59 427.60,62.13 427.80,57.87 428.00,53.90 428.20,50.30 428.40,47.14 428.60,44.49 428.80,42.38 429.00,40.85 429.20,39.89 429.40,39.55 429.60,39.84 429.80,40.77 430.00,42.31 430.20,44.44 430.40,47.12 430.60,50.30 430.80,53.92 431.00,57.92 431.20,62.20 431.40,66.68 431.60,71.20 431.80,75.71 432.00,80.06 432.20,84.15 432.40,87.81 432.60,90.90 432.80,93.25 433.00,94.67 433.20,95.03 433.40,95.05 433.60,95.07 433.80,95.10 434.00,95.08 434.20,95.05 434.40,95.03 434.60,95.02 434.80,95.00 435.00,95.00 435.20,95.00 435.40,95.01 435.60,95.03 435.80,95.05 436.00,95.07 436.20,95.09 436.40,95.08 436.60,95.05 436.80,95.03 437.00,95.02 437.20,95.01 437.40,95.00 437.60,95.00 437.80,95.01 438.00,95.02 438.20,95.04 438.40,95.07 438.60,95.09 438.80,95.08 439.00,95.06 439.20,95.03 439.40,95.02 439.60,95.01 439.80,94.96 440.00,94.07 440.20,92.16 440.40,89.42 440.60,86.01 440.80,82.10 441.00,77.84 441.20,73.33 441.40,68.72 441.60,64.15 441.80,59.73 442.00,55.56 442.20,51.73 442.40,48.31 442.60,45.36 442.80,42.95 443.00,41.11 443.20,39.88 443.40,39.27 443.60,39.27 443.80,39.87 444.00,41.11 444.20,42.95 444.40,45.36 444.60,48.31 444.80,51.73 445.00,55.56 445.20,59.74 445.40,64.16 445.60,68.72 445.80,73.33 446.00,77.83 446.20,82.10 446.40,86.01 446.60,89.42 446.80,92.16 447.00,94.07 447.20,94.96 447.40,95.01 447.60,95.02 447.80,95.04 448.00,95.06 448.20,95.08 448.40,95.09 448.60,95.06 448.80,95.04 449.00,95.02 449.20,95.01 449.40,95.00 449.60,95.00 449.80,95.01 450.00,95.02 450.20,95.04 450.40,95.06 450.60,95.08 450.80,95.09 451.00,95.07 451.20,95.04 451.40,95.02 451.60,95.01 451.80,95.00 452.00,95.00 452.20,95.01 452.40,95.02 452.60,95.03 452.80,95.06 453.00,95.08 453.20,95.09 453.40,95.07 453.60,95.05 453.80,95.03 454.00,95.01 454.20,95.00 454.40,95.00 454.60,95.00 454.80,95.02 455.00,95.03 455.20,95.05 455.40,95.08 455.60,95.10 455.80,95.07 456.00,95.05 456.20,95.03 456.40,95.01 456.60,95.00 456.80,95.00 457.00,95.00 457.20,95.01 457.40,95.03 457.60,95.05 457.80,95.08 458.00,95.10 458.20,95.07 458.40,95.05 458.60,95.03 458.80,95.01 459.00,95.00 459.20,95.00 459.40,95.00 459.60,95.01 459.80,95.03 460.00,95.05 460.20,95.07 460.40,95.10 460.60,95.07" fill="none" stroke="#6fbb55" stroke-width="0.85" stroke-linejoin="round"/>
<polyline points="333.00,94.85 333.20,94.86 333.40,94.89 333.60,94.93 333.80,94.98 334.00,95.04 334.20,95.09 334.40,95.03 334.60,94.97 334.80,94.92 335.00,94.88 335.20,94.86 335.40,94.85 335.60,94.86 335.80,94.89 336.00,94.93 336.20,94.98 336.40,95.04 336.60,95.10 336.80,95.03 337.00,94.97 337.20,94.92 337.40,94.88 337.60,94.86 337.80,94.85 338.00,94.86 338.20,94.88 338.40,94.92 338.60,94.97 338.80,95.03 339.00,95.10 339.20,95.04 339.40,94.98 339.60,94.93 339.80,94.89 340.00,94.86 340.20,94.85 340.40,94.86 340.60,94.88 340.80,94.92 341.00,94.97 341.20,95.03 341.40,95.09 341.60,95.04 341.80,94.98 342.00,94.93 342.20,94.89 342.40,94.86 342.60,94.85 342.80,94.86 343.00,94.88 343.20,94.91 343.40,94.96 343.60,95.02 343.80,95.09 344.00,95.05 344.20,94.99 344.40,94.93 344.60,94.89 344.80,94.86 345.00,94.85 345.20,94.85 345.40,94.88 345.60,94.91 345.80,94.96 346.00,95.02 346.20,95.08 346.40,95.05 346.60,94.99 346.80,94.94 347.00,94.89 347.20,94.87 347.40,94.85 347.60,94.85 347.80,94.87 348.00,94.91 348.20,94.95 348.40,95.01 348.60,95.08 348.80,95.06 349.00,95.00 349.20,94.94 349.40,94.90 349.60,94.87 349.80,94.85 350.00,94.85 350.20,94.87 350.40,94.90 350.60,94.95 350.80,95.01 351.00,95.07 351.20,95.07 351.40,95.00 351.60,94.95 351.80,94.90 352.00,94.87 352.20,94.85 352.40,94.85 352.60,94.87 352.80,94.90 353.00,94.95 353.20,95.00 353.40,95.06 353.60,95.07 353.80,95.01 354.00,94.95 354.20,94.90 354.40,94.87 354.60,94.85 354.80,94.85 355.00,94.87 355.20,94.90 355.40,94.94 355.60,95.00 355.80,95.06 356.00,95.08 356.20,95.01 356.40,94.96 356.60,94.91 356.80,94.87 357.00,94.85 357.20,94.85 357.40,94.86 357.60,94.89 357.80,94.94 358.00,94.99 358.20,95.05 358.40,95.08 358.60,95.02 358.80,94.96 359.00,94.91 359.20,94.88 359.40,94.85 359.60,94.85 359.80,94.86 360.00,94.89 360.20,94.93 360.40,94.99 360.60,95.05 360.80,95.09 361.00,95.02 361.20,94.96 361.40,94.92 361.60,94.88 361.80,94.61 362.00,93.60 362.20,91.94 362.40,89.76 362.60,87.18 362.80,84.30 363.00,81.24 363.20,78.06 363.40,74.75 363.60,71.51 363.80,68.42 364.00,65.55 364.20,62.95 364.40,60.68 364.60,58.78 364.80,57.29 365.00,56.22 365.20,55.60 365.40,55.44 365.60,55.72 365.80,56.33 366.00,57.38 366.20,58.85 366.40,60.71 366.60,62.95 366.80,65.52 367.00,68.36 367.20,71.43 367.40,74.65 367.60,77.94 367.80,81.23 368.00,84.42 368.20,87.29 368.40,89.85 368.60,92.00 368.80,93.36 369.00,93.23 369.20,91.61 369.40,89.17 369.60,86.28 369.80,83.08 370.00,79.67 370.20,76.15 370.40,72.61 370.60,69.04 370.80,65.61 371.00,62.41 371.20,59.52 371.40,56.98 371.60,54.86 371.80,53.17 372.00,51.97 372.20,51.26 372.40,51.06 372.60,51.37 372.80,52.18 373.00,53.37 373.20,54.99 373.40,57.06 373.60,59.52 373.80,62.35 374.00,65.48 374.20,68.85 374.40,72.40 374.60,76.03 374.80,79.66 375.00,83.18 375.20,86.49 375.40,89.37 375.60,91.75 375.80,93.52 376.00,94.01 376.20,92.97 376.40,91.11 376.60,88.83 376.80,86.22 377.00,83.40 377.20,80.44 377.40,77.44 377.60,74.47 377.80,71.52 378.00,68.68 378.20,66.07 378.40,63.74 378.60,61.74 378.80,60.11 379.00,58.87 379.20,58.05 379.40,57.66 379.60,57.70 379.80,58.18 380.00,59.08 380.20,60.32 380.40,61.88 380.60,63.79 380.80,66.03 381.00,68.55 381.20,71.31 381.40,74.24 381.60,77.29 381.80,80.39 382.00,83.43 382.20,86.35 382.40,89.04 382.60,91.33 382.80,93.11 383.00,94.33 383.20,94.88 383.40,94.87 383.60,94.85 383.80,94.85 384.00,94.87 384.20,94.90 384.40,94.94 384.60,95.00 384.80,95.06 385.00,95.08 385.20,95.01 385.40,94.96 385.60,94.91 385.80,94.87 386.00,94.85 386.20,94.85 386.40,94.86 386.60,94.89 386.80,94.94 387.00,94.99 387.20,95.05 387.40,95.08 387.60,95.02 387.80,94.96 388.00,94.91 388.20,94.88 388.40,94.85 388.60,94.85 388.80,94.86 389.00,94.89 389.20,94.93 389.40,94.99 389.60,95.05 389.80,95.09 390.00,95.02 390.20,94.77 390.40,93.91 390.60,92.54 390.80,90.76 391.00,88.66 391.20,86.34 391.40,83.87 391.60,81.34 391.80,78.80 392.00,76.33 392.20,73.95 392.40,71.62 392.60,69.51 392.80,67.65 393.00,66.09 393.20,64.85 393.40,63.97 393.60,63.44 393.80,63.29 394.00,63.51 394.20,64.09 394.40,65.04 394.60,66.31 394.80,67.77 395.00,69.51 395.20,71.52 395.40,73.74 395.60,76.14 395.80,78.67 396.00,81.27 396.20,83.87 396.40,86.40 396.60,88.79 396.80,90.94 397.00,92.76 397.20,94.04 397.40,94.78 397.60,94.93 397.80,94.89 398.00,94.86 398.20,94.85 398.40,94.86 398.60,94.88 398.80,94.92 399.00,94.97 399.20,95.03 399.40,95.09 399.60,95.04 399.80,94.98 400.00,94.93 400.20,94.89 400.40,94.86 400.60,94.85 400.80,94.86 401.00,94.88 401.20,94.91 401.40,94.96 401.60,95.02 401.80,95.09 402.00,95.05 402.20,94.99 402.40,94.93 402.60,94.89 402.80,94.86 403.00,94.85 403.20,94.85 403.40,94.88 403.60,94.91 403.80,94.96 404.00,95.02 404.20,95.08 404.40,95.05 404.60,94.99 404.80,94.94 405.00,94.89 405.20,94.86 405.40,94.85 405.60,94.85 405.80,94.87 406.00,94.91 406.20,94.96 406.40,95.01 406.60,95.08 406.80,95.06 407.00,95.00 407.20,94.94 407.40,94.90 407.60,94.87 407.80,94.85 408.00,94.85 408.20,94.87 408.40,94.90 408.60,94.95 408.80,95.01 409.00,95.07 409.20,95.06 409.40,95.00 409.60,94.95 409.80,94.90 410.00,94.87 410.20,94.85 410.40,94.85 410.60,94.87 410.80,94.90 411.00,94.95 411.20,95.00 411.40,95.06 411.60,95.07 411.80,95.01 412.00,94.95 412.20,94.90 412.40,94.87 412.60,94.85 412.80,94.85 413.00,94.87 413.20,94.90 413.40,94.94 413.60,95.00 413.80,95.06 414.00,95.08 414.20,95.01 414.40,94.96 414.60,94.91 414.80,94.87 415.00,94.85 415.20,94.85 415.40,94.86 415.60,94.89 415.80,94.94 416.00,94.99 416.20,95.05 416.40,95.08 416.60,95.02 416.80,94.96 417.00,94.91 417.20,94.88 417.40,94.85 417.60,94.85 417.80,94.86 418.00,94.89 418.20,94.93 418.40,94.99 418.60,95.05 418.80,95.09 419.00,95.02 419.20,94.96 419.40,94.91 419.60,94.88 419.80,94.86 420.00,94.85 420.20,94.86 420.40,94.89 420.60,94.93 420.80,94.98 421.00,95.04 421.20,95.09 421.40,95.03 421.60,94.97 421.80,94.92 422.00,94.88 422.20,94.86 422.40,94.85 422.60,94.86 422.80,94.89 423.00,94.93 423.20,94.98 423.40,95.04 423.60,95.10 423.80,95.03 424.00,94.97 424.20,94.92 424.40,94.88 424.60,94.86 424.80,94.85 425.00,94.86 425.20,94.88 425.40,94.92 425.60,94.97 425.80,95.03 426.00,95.10 426.20,95.04 426.40,94.98 426.60,94.93 426.80,94.89 427.00,94.86 427.20,94.85 427.40,94.86 427.60,94.88 427.80,94.92 428.00,94.97 428.20,95.03 428.40,95.09 428.60,95.04 428.80,94.98 429.00,94.93 429.20,94.89 429.40,94.86 429.60,94.85 429.80,94.86 430.00,94.88 430.20,94.91 430.40,94.96 430.60,95.02 430.80,95.09 431.00,95.05 431.20,94.99 431.40,94.93 431.60,94.89 431.80,94.86 432.00,94.85 432.20,94.85 432.40,94.88 432.60,94.91 432.80,94.96 433.00,95.02 433.20,95.08 433.40,95.05 433.60,94.99 433.80,94.94 434.00,94.89 434.20,94.86 434.40,94.85 434.60,94.85 434.80,94.87 435.00,94.91 435.20,94.96 435.40,95.01 435.60,95.08 435.80,95.06 436.00,95.00 436.20,94.94 436.40,94.90 436.60,94.87 436.80,94.85 437.00,94.85 437.20,94.87 437.40,94.90 437.60,94.95 437.80,95.01 438.00,95.07 438.20,95.06 438.40,95.00 438.60,94.95 438.80,94.90 439.00,94.87 439.20,94.85 439.40,94.85 439.60,94.87 439.80,94.90 440.00,94.95 440.20,95.00 440.40,95.07 440.60,95.07 440.80,95.01 441.00,94.95 441.20,94.90 441.40,94.87 441.60,94.85 441.80,94.85 442.00,94.87 442.20,94.90 442.40,94.94 442.60,95.00 442.80,95.06 443.00,95.08 443.20,95.01 443.40,94.96 443.60,94.91 443.80,94.87 444.00,94.85 444.20,94.85 444.40,94.86 444.60,94.89 444.80,94.94 445.00,94.99 445.20,95.05 445.40,95.08 445.60,95.02 445.80,94.96 446.00,94.88 446.20,94.22 446.40,92.85 446.60,90.90 446.80,88.50 447.00,85.75 447.20,82.77 447.40,79.66 447.60,76.49 447.80,73.32 448.00,70.15 448.20,67.16 448.40,64.42 448.60,61.97 448.80,59.86 449.00,58.15 449.20,56.85 449.40,55.99 449.60,55.59 449.80,55.64 450.00,56.15 450.20,57.08 450.40,58.33 450.60,59.98 450.80,62.01 451.00,64.38 451.20,67.06 451.40,69.98 451.60,73.09 451.80,76.32 452.00,79.59 452.20,82.82 452.40,85.90 452.60,88.73 452.80,91.06 453.00,92.35 453.20,92.38 453.40,91.14 453.60,88.86 453.80,86.25 454.00,83.41 454.20,80.45 454.40,77.44 454.60,74.48 454.80,71.62 455.00,68.92 455.20,66.32 455.40,63.99 455.60,61.98 455.80,60.33 456.00,59.07 456.20,58.22 456.40,57.81 456.60,57.83 456.80,58.29 457.00,59.18 457.20,60.47 457.40,62.14 457.60,64.05 457.80,66.26 458.00,68.75 458.20,71.47 458.40,74.36 458.60,77.37 458.80,80.42 459.00,83.43 459.20,86.31 459.40,88.97 459.60,91.30 459.80,93.20 460.00,94.43 460.20,94.96 460.40,94.93 460.60,94.89" fill="none" stroke="#c4234f" stroke-width="0.85" stroke-linejoin="round"/>
<text x="338.30" y="104.30" font-size="8.2" text-anchor="middle" fill="#6fbb55">A</text>
<text x="345.10" y="104.30" font-size="8.2" text-anchor="middle" fill="#4d6fb0">C</text>
<text x="351.50" y="104.30" font-size="8.2" text-anchor="middle" fill="#6fbb55">A</text>
<text x="358.30" y="104.30" font-size="8.2" text-anchor="middle" fill="#6fbb55">A</text>
<text x="365.40" y="104.30" font-size="8.2" text-anchor="middle" fill="#c4234f">T</text>
<text x="372.40" y="104.30" font-size="8.2" text-anchor="middle" fill="#c4234f">T</text>
<text x="379.50" y="104.30" font-size="8.2" text-anchor="middle" fill="#c4234f">T</text>
<text x="387.00" y="104.30" font-size="8.2" text-anchor="middle" fill="#333">G</text>
<text x="393.80" y="104.30" font-size="8.2" text-anchor="middle" fill="#c4234f">T</text>
<text x="401.50" y="104.30" font-size="8.2" text-anchor="middle" fill="#333">G</text>
<text x="408.00" y="104.30" font-size="8.2" text-anchor="middle" fill="#4d6fb0">C</text>
<text x="415.00" y="104.30" font-size="8.2" text-anchor="middle" fill="#4d6fb0">C</text>
<text x="422.30" y="104.30" font-size="8.2" text-anchor="middle" fill="#333">G</text>
<text x="429.40" y="104.30" font-size="8.2" text-anchor="middle" fill="#6fbb55">A</text>
<text x="436.40" y="104.30" font-size="8.2" text-anchor="middle" fill="#333">G</text>
<text x="443.50" y="104.30" font-size="8.2" text-anchor="middle" fill="#6fbb55">A</text>
<text x="449.70" y="104.30" font-size="8.2" text-anchor="middle" fill="#c4234f">T</text>
<text x="456.50" y="104.30" font-size="8.2" text-anchor="middle" fill="#c4234f">T</text>
<line x1="335.60" y1="108.40" x2="354.60" y2="108.40" stroke="#222" stroke-width="1.0" />
<line x1="356.90" y1="108.40" x2="375.50" y2="108.40" stroke="#222" stroke-width="1.0" />
<line x1="378.00" y1="108.40" x2="396.60" y2="108.40" stroke="#222" stroke-width="1.0" />
<line x1="399.00" y1="108.40" x2="417.60" y2="108.40" stroke="#222" stroke-width="1.0" />
<line x1="419.90" y1="108.40" x2="438.70" y2="108.40" stroke="#222" stroke-width="1.0" />
<line x1="441.20" y1="108.40" x2="459.90" y2="108.40" stroke="#222" stroke-width="1.0" />
<text x="345.20" y="117.40" font-size="8.0" text-anchor="middle" fill="#111" font-weight="bold">T</text>
<text x="366.00" y="117.40" font-size="8.0" text-anchor="middle" fill="#111" font-weight="bold">I</text>
<text x="387.20" y="117.40" font-size="8.0" text-anchor="middle" fill="#111" font-weight="bold">C</text>
<text x="408.50" y="117.40" font-size="8.0" text-anchor="middle" fill="#111" font-weight="bold">A</text>
<text x="429.30" y="117.40" font-size="8.0" text-anchor="middle" fill="#62a542" font-weight="bold" textLength="22.80" lengthAdjust="spacingAndGlyphs">R118E</text>
<text x="450.30" y="117.40" font-size="8.0" text-anchor="middle" fill="#111" font-weight="bold">I</text>
<defs><filter id="bl" x="-20%" y="-50%" width="140%" height="200%"><feGaussianBlur stdDeviation="0.55"/></filter><filter id="bl2" x="-20%" y="-50%" width="140%" height="200%"><feGaussianBlur stdDeviation="0.9"/></filter><filter id="bl3" x="-20%" y="-80%" width="140%" height="260%"><feGaussianBlur stdDeviation="0.65"/></filter></defs>
<rect x="48.40" y="201.00" width="114.60" height="22.80" fill="#d7d7d7" />
<rect x="48.40" y="226.90" width="114.60" height="16.80" fill="#d7d7d7" />
<clipPath id="cb1"><rect x="48.4" y="201.0" width="114.6" height="22.8"/></clipPath><clipPath id="cb2"><rect x="48.4" y="226.9" width="114.6" height="16.8"/></clipPath>
<g clip-path="url(#cb1)">
<rect x="55.00" y="201.00" width="15.30" height="23.00" fill="#cacaca" filter="url(#bl2)"/>
<rect x="72.10" y="201.00" width="15.40" height="23.00" fill="#cacaca" filter="url(#bl2)"/>
<rect x="89.30" y="201.00" width="15.50" height="23.00" fill="#cacaca" filter="url(#bl2)"/>
<rect x="106.90" y="201.00" width="14.60" height="23.00" fill="#cacaca" filter="url(#bl2)"/>
<rect x="124.10" y="201.00" width="14.90" height="23.00" fill="#cacaca" filter="url(#bl2)"/>
<rect x="141.20" y="201.00" width="14.70" height="23.00" fill="#cacaca" filter="url(#bl2)"/>
</g><g clip-path="url(#cb2)">
<rect x="55.00" y="226.90" width="15.30" height="17.00" fill="#cacaca" filter="url(#bl2)"/>
<rect x="72.10" y="226.90" width="15.40" height="17.00" fill="#cacaca" filter="url(#bl2)"/>
<rect x="89.30" y="226.90" width="15.50" height="17.00" fill="#cacaca" filter="url(#bl2)"/>
<rect x="106.90" y="226.90" width="14.60" height="17.00" fill="#cacaca" filter="url(#bl2)"/>
<rect x="124.10" y="226.90" width="14.90" height="17.00" fill="#cacaca" filter="url(#bl2)"/>
<rect x="141.20" y="226.90" width="14.70" height="17.00" fill="#cacaca" filter="url(#bl2)"/>
</g>
<rect x="54.90" y="216.6" width="15.50" height="6.6" fill="#c2c2c2" filter="url(#bl2)"/>
<rect x="54.70" y="212.60" width="15.90" height="2.0" fill="#8e8e8e" filter="url(#bl)"/>
<rect x="54.10" y="209.70" width="17.10" height="3.0" rx="1.3" fill="#161616" filter="url(#bl)"/>
<rect x="54.30" y="214.40" width="16.70" height="2.0" rx="1.0" fill="#262626" filter="url(#bl)"/>
<rect x="55.20" y="218.1" width="14.90" height="0.9" fill="#b6b6b6" filter="url(#bl)"/>
<rect x="55.20" y="221.1" width="14.90" height="0.9" fill="#bcbcbc" filter="url(#bl)"/>
<rect x="55.50" y="227.3" width="14.30" height="1.8" fill="#afafaf" filter="url(#bl)"/>
<rect x="53.70" y="231.4" width="17.90" height="5.1" rx="2.2" fill="#141414" filter="url(#bl3)"/>
<rect x="72.00" y="216.6" width="15.60" height="6.6" fill="#c2c2c2" filter="url(#bl2)"/>
<rect x="71.80" y="212.60" width="16.00" height="2.0" fill="#8e8e8e" filter="url(#bl)"/>
<rect x="71.20" y="209.70" width="17.20" height="3.0" rx="1.3" fill="#161616" filter="url(#bl)"/>
<rect x="71.40" y="214.40" width="16.80" height="2.0" rx="1.0" fill="#262626" filter="url(#bl)"/>
<rect x="72.30" y="218.1" width="15.00" height="0.9" fill="#b6b6b6" filter="url(#bl)"/>
<rect x="72.30" y="221.1" width="15.00" height="0.9" fill="#bcbcbc" filter="url(#bl)"/>
<rect x="72.60" y="227.3" width="14.40" height="1.8" fill="#bababa" filter="url(#bl)"/>
<rect x="70.80" y="231.4" width="18.00" height="5.1" rx="2.2" fill="#141414" filter="url(#bl3)"/>
<rect x="89.20" y="216.6" width="15.70" height="6.6" fill="#c2c2c2" filter="url(#bl2)"/>
<rect x="89.00" y="212.60" width="16.10" height="2.0" fill="#8e8e8e" filter="url(#bl)"/>
<rect x="88.40" y="209.70" width="17.30" height="3.0" rx="1.3" fill="#161616" filter="url(#bl)"/>
<rect x="88.60" y="214.40" width="16.90" height="2.0" rx="1.0" fill="#262626" filter="url(#bl)"/>
<rect x="89.50" y="218.1" width="15.10" height="0.9" fill="#b6b6b6" filter="url(#bl)"/>
<rect x="89.50" y="221.1" width="15.10" height="0.9" fill="#bcbcbc" filter="url(#bl)"/>
<rect x="89.80" y="227.3" width="14.50" height="1.8" fill="#9e9e9e" filter="url(#bl)"/>
<rect x="88.00" y="231.4" width="18.10" height="5.1" rx="2.2" fill="#141414" filter="url(#bl3)"/>
<rect x="106.80" y="216.6" width="14.80" height="6.6" fill="#c2c2c2" filter="url(#bl2)"/>
<rect x="106.60" y="212.60" width="15.20" height="2.0" fill="#8e8e8e" filter="url(#bl)"/>
<rect x="106.00" y="209.70" width="16.40" height="3.0" rx="1.3" fill="#161616" filter="url(#bl)"/>
<rect x="106.20" y="214.40" width="16.00" height="2.0" rx="1.0" fill="#262626" filter="url(#bl)"/>
<rect x="107.10" y="218.1" width="14.20" height="0.9" fill="#b6b6b6" filter="url(#bl)"/>
<rect x="107.10" y="221.1" width="14.20" height="0.9" fill="#bcbcbc" filter="url(#bl)"/>
<rect x="107.40" y="227.3" width="13.60" height="1.8" fill="#b8b8b8" filter="url(#bl)"/>
<rect x="105.60" y="231.4" width="17.20" height="5.1" rx="2.2" fill="#141414" filter="url(#bl3)"/>
<rect x="124.00" y="216.6" width="15.10" height="6.6" fill="#c2c2c2" filter="url(#bl2)"/>
<rect x="123.80" y="212.60" width="15.50" height="2.0" fill="#8e8e8e" filter="url(#bl)"/>
<rect x="123.20" y="209.70" width="16.70" height="3.0" rx="1.3" fill="#161616" filter="url(#bl)"/>
<rect x="123.40" y="214.40" width="16.30" height="2.0" rx="1.0" fill="#262626" filter="url(#bl)"/>
<rect x="124.30" y="218.1" width="14.50" height="0.9" fill="#b6b6b6" filter="url(#bl)"/>
<rect x="124.30" y="221.1" width="14.50" height="0.9" fill="#bcbcbc" filter="url(#bl)"/>
<rect x="124.60" y="227.3" width="13.90" height="1.8" fill="#b2b2b2" filter="url(#bl)"/>
<rect x="122.80" y="231.4" width="17.50" height="5.1" rx="2.2" fill="#141414" filter="url(#bl3)"/>
<rect x="141.10" y="216.6" width="14.90" height="6.6" fill="#c2c2c2" filter="url(#bl2)"/>
<rect x="140.90" y="212.00" width="15.30" height="2.0" fill="#8e8e8e" filter="url(#bl)"/>
<rect x="140.30" y="209.10" width="16.50" height="3.0" rx="1.3" fill="#161616" filter="url(#bl)"/>
<rect x="140.50" y="214.10" width="16.10" height="2.0" rx="1.0" fill="#262626" filter="url(#bl)"/>
<rect x="141.40" y="218.1" width="14.30" height="0.9" fill="#b6b6b6" filter="url(#bl)"/>
<rect x="141.40" y="221.1" width="14.30" height="0.9" fill="#bcbcbc" filter="url(#bl)"/>
<rect x="141.70" y="227.3" width="13.70" height="1.8" fill="#bcbcbc" filter="url(#bl)"/>
<rect x="139.90" y="231.4" width="17.30" height="5.1" rx="2.2" fill="#141414" filter="url(#bl3)"/>
<text x="42.40" y="214.20" font-size="8.5" text-anchor="end" fill="#222" textLength="34.60" lengthAdjust="spacingAndGlyphs">Talin (8d4)</text>
<line x1="45.50" y1="212.10" x2="48.10" y2="212.10" stroke="#1a1a1a" stroke-width="1.1" />
<text x="42.30" y="235.70" font-size="8.5" text-anchor="end" fill="#222" textLength="17.80" lengthAdjust="spacingAndGlyphs">Actin</text>
<line x1="45.50" y1="233.20" x2="48.10" y2="233.20" stroke="#1a1a1a" stroke-width="1.1" />
<text x="62.70" y="199.10" font-size="7.9" text-anchor="middle" fill="#222">#1</text>
<text x="80.00" y="199.10" font-size="7.9" text-anchor="middle" fill="#222">#2</text>
<text x="97.80" y="199.10" font-size="7.9" text-anchor="middle" fill="#222">#3</text>
<text x="114.60" y="199.10" font-size="7.9" text-anchor="middle" fill="#222">#1</text>
<text x="131.20" y="199.10" font-size="7.9" text-anchor="middle" fill="#222">#2</text>
<text x="149.20" y="199.10" font-size="7.9" text-anchor="middle" fill="#222">#3</text>
<line x1="56.50" y1="189.30" x2="104.20" y2="189.30" stroke="#1c1c1c" stroke-width="1.4" />
<line x1="107.70" y1="189.30" x2="155.80" y2="189.30" stroke="#1c1c1c" stroke-width="1.4" />
<text x="0.00" y="0.00" font-size="8.2" text-anchor="start" fill="#222" transform="translate(80.9,186.4) rotate(-45)">Control</text>
<text x="0.00" y="0.00" font-size="8.2" text-anchor="start" fill="#222" transform="translate(132.0,186.4) rotate(-45)">Tln1-R118E</text>
<line x1="222.30" y1="163.50" x2="222.30" y2="270.50" stroke="#111" stroke-width="1.2" />
<line x1="219.40" y1="270.00" x2="222.30" y2="270.00" stroke="#111" stroke-width="1.1" />
<text x="216.90" y="273.08" font-size="8.6" text-anchor="end" fill="#222">0</text>
<line x1="219.40" y1="255.20" x2="222.30" y2="255.20" stroke="#111" stroke-width="1.1" />
<text x="216.90" y="258.28" font-size="8.6" text-anchor="end" fill="#222">0.2</text>
<line x1="219.40" y1="240.40" x2="222.30" y2="240.40" stroke="#111" stroke-width="1.1" />
<text x="216.90" y="243.48" font-size="8.6" text-anchor="end" fill="#222">0.4</text>
<line x1="219.40" y1="225.60" x2="222.30" y2="225.60" stroke="#111" stroke-width="1.1" />
<text x="216.90" y="228.68" font-size="8.6" text-anchor="end" fill="#222">0.6</text>
<line x1="219.40" y1="210.80" x2="222.30" y2="210.80" stroke="#111" stroke-width="1.1" />
<text x="216.90" y="213.88" font-size="8.6" text-anchor="end" fill="#222">0.8</text>
<line x1="219.40" y1="196.00" x2="222.30" y2="196.00" stroke="#111" stroke-width="1.1" />
<text x="216.90" y="199.08" font-size="8.6" text-anchor="end" fill="#222">1.0</text>
<line x1="219.40" y1="181.20" x2="222.30" y2="181.20" stroke="#111" stroke-width="1.1" />
<text x="216.90" y="184.28" font-size="8.6" text-anchor="end" fill="#222">1.2</text>
<line x1="219.40" y1="166.40" x2="222.30" y2="166.40" stroke="#111" stroke-width="1.1" />
<text x="216.90" y="169.48" font-size="8.6" text-anchor="end" fill="#222">1.4</text>
<line x1="222.30" y1="270.00" x2="340.20" y2="270.00" stroke="#111" stroke-width="1.2" />
<text x="0.00" y="0.00" font-size="8.5" text-anchor="start" fill="#222" textLength="121.10" lengthAdjust="spacingAndGlyphs" stroke="#222" stroke-width="0.18" transform="translate(198.90,276.90) rotate(-90)">Integrin surface levels (ΔMFI x100)</text>
<rect x="226.65" y="196.35" width="7.10" height="73.65" fill="#2f4e86" stroke="#223f74" stroke-width="0.7"/>
<rect x="236.45" y="196.72" width="7.10" height="73.28" fill="#6aa848" stroke="#5a9c38" stroke-width="0.7"/>
<line x1="230.20" y1="196.00" x2="230.20" y2="192.60" stroke="#2a2a2a" stroke-width="0.95" />
<path d="M228.05 191.95 L232.35 191.95 L231.95 192.75 L230.75 193.70 L229.65 193.70 L228.45 192.75 Z" fill="#2a2a2a"/>
<line x1="240.00" y1="196.37" x2="240.00" y2="193.04" stroke="#2a2a2a" stroke-width="0.95" />
<path d="M237.85 192.39 L242.15 192.39 L241.75 193.19 L240.55 194.14 L239.45 194.14 L238.25 193.19 Z" fill="#2a2a2a"/>
<text x="240.00" y="189.64" font-size="7.2" text-anchor="middle" fill="#222">ns</text>
<line x1="235.15" y1="270.00" x2="235.15" y2="273.00" stroke="#111" stroke-width="1.0" />
<text x="235.15" y="283.60" font-size="8.2" text-anchor="middle" fill="#222">αIIb</text>
<rect x="250.30" y="196.35" width="7.10" height="73.65" fill="#2f4e86" stroke="#223f74" stroke-width="0.7"/>
<rect x="260.10" y="200.05" width="7.10" height="69.95" fill="#6aa848" stroke="#5a9c38" stroke-width="0.7"/>
<line x1="253.85" y1="196.00" x2="253.85" y2="192.00" stroke="#2a2a2a" stroke-width="0.95" />
<path d="M251.70 191.35 L256.00 191.35 L255.60 192.15 L254.40 193.10 L253.30 193.10 L252.10 192.15 Z" fill="#2a2a2a"/>
<line x1="263.65" y1="199.70" x2="263.65" y2="197.48" stroke="#2a2a2a" stroke-width="0.95" />
<path d="M261.50 196.83 L265.80 196.83 L265.40 197.63 L264.20 198.58 L263.10 198.58 L261.90 197.63 Z" fill="#2a2a2a"/>
<text x="263.65" y="194.08" font-size="7.2" text-anchor="middle" fill="#222">ns</text>
<line x1="258.80" y1="270.00" x2="258.80" y2="273.00" stroke="#111" stroke-width="1.0" />
<text x="258.80" y="283.60" font-size="8.2" text-anchor="middle" fill="#222">β3</text>
<rect x="273.95" y="196.35" width="7.10" height="73.65" fill="#2f4e86" stroke="#223f74" stroke-width="0.7"/>
<rect x="283.75" y="204.49" width="7.10" height="65.51" fill="#6aa848" stroke="#5a9c38" stroke-width="0.7"/>
<line x1="277.50" y1="196.00" x2="277.50" y2="179.72" stroke="#2a2a2a" stroke-width="0.95" />
<path d="M275.35 179.07 L279.65 179.07 L279.25 179.87 L278.05 180.82 L276.95 180.82 L275.75 179.87 Z" fill="#2a2a2a"/>
<line x1="287.30" y1="204.14" x2="287.30" y2="187.86" stroke="#2a2a2a" stroke-width="0.95" />
<path d="M285.15 187.21 L289.45 187.21 L289.05 188.01 L287.85 188.96 L286.75 188.96 L285.55 188.01 Z" fill="#2a2a2a"/>
<text x="287.30" y="184.46" font-size="7.2" text-anchor="middle" fill="#222">ns</text>
<line x1="282.45" y1="270.00" x2="282.45" y2="273.00" stroke="#111" stroke-width="1.0" />
<text x="282.45" y="283.60" font-size="8.2" text-anchor="middle" fill="#222">α2</text>
<rect x="297.60" y="196.35" width="7.10" height="73.65" fill="#2f4e86" stroke="#223f74" stroke-width="0.7"/>
<rect x="307.40" y="200.05" width="7.10" height="69.95" fill="#6aa848" stroke="#5a9c38" stroke-width="0.7"/>
<line x1="301.15" y1="196.00" x2="301.15" y2="192.00" stroke="#2a2a2a" stroke-width="0.95" />
<path d="M299.00 191.35 L303.30 191.35 L302.90 192.15 L301.70 193.10 L300.60 193.10 L299.40 192.15 Z" fill="#2a2a2a"/>
<line x1="310.95" y1="199.70" x2="310.95" y2="198.59" stroke="#2a2a2a" stroke-width="0.95" />
<path d="M308.80 197.94 L313.10 197.94 L312.70 198.74 L311.50 199.69 L310.40 199.69 L309.20 198.74 Z" fill="#2a2a2a"/>
<text x="310.95" y="195.19" font-size="7.2" text-anchor="middle" fill="#222">ns</text>
<line x1="306.10" y1="270.00" x2="306.10" y2="273.00" stroke="#111" stroke-width="1.0" />
<text x="306.10" y="283.60" font-size="8.2" text-anchor="middle" fill="#222">α5</text>
<rect x="321.25" y="196.35" width="7.10" height="73.65" fill="#2f4e86" stroke="#223f74" stroke-width="0.7"/>
<rect x="331.05" y="196.35" width="7.10" height="73.65" fill="#6aa848" stroke="#5a9c38" stroke-width="0.7"/>
<line x1="324.80" y1="196.00" x2="324.80" y2="192.30" stroke="#2a2a2a" stroke-width="0.95" />
<path d="M322.65 191.65 L326.95 191.65 L326.55 192.45 L325.35 193.40 L324.25 193.40 L323.05 192.45 Z" fill="#2a2a2a"/>
<line x1="334.60" y1="196.00" x2="334.60" y2="192.00" stroke="#2a2a2a" stroke-width="0.95" />
<path d="M332.45 191.35 L336.75 191.35 L336.35 192.15 L335.15 193.10 L334.05 193.10 L332.85 192.15 Z" fill="#2a2a2a"/>
<text x="334.60" y="188.60" font-size="7.2" text-anchor="middle" fill="#222">ns</text>
<line x1="329.75" y1="270.00" x2="329.75" y2="273.00" stroke="#111" stroke-width="1.0" />
<text x="329.75" y="283.60" font-size="8.2" text-anchor="middle" fill="#222">β1</text>
<rect x="231.50" y="154.30" width="7.00" height="7.00" fill="#2f4e86" />
<text x="241.90" y="160.60" font-size="7.9" text-anchor="start" fill="#222" font-style="italic" textLength="25.50" lengthAdjust="spacingAndGlyphs">Control</text>
<rect x="289.50" y="154.30" width="7.00" height="7.00" fill="#6aa848" />
<text x="300.00" y="160.60" font-size="7.9" text-anchor="start" fill="#222" font-style="italic" textLength="39.00" lengthAdjust="spacingAndGlyphs">Tln1-R118E</text>
<line x1="395.50" y1="163.00" x2="395.50" y2="270.60" stroke="#111" stroke-width="1.2" />
<line x1="392.60" y1="270.10" x2="395.50" y2="270.10" stroke="#111" stroke-width="1.1" />
<text x="391.10" y="273.18" font-size="8.6" text-anchor="end" fill="#222">0</text>
<line x1="392.60" y1="255.25" x2="395.50" y2="255.25" stroke="#111" stroke-width="1.1" />
<text x="391.10" y="258.33" font-size="8.6" text-anchor="end" fill="#222">5</text>
<line x1="392.60" y1="240.40" x2="395.50" y2="240.40" stroke="#111" stroke-width="1.1" />
<text x="391.10" y="243.48" font-size="8.6" text-anchor="end" fill="#222">10</text>
<line x1="392.60" y1="225.55" x2="395.50" y2="225.55" stroke="#111" stroke-width="1.1" />
<text x="391.10" y="228.63" font-size="8.6" text-anchor="end" fill="#222">15</text>
<line x1="392.60" y1="210.70" x2="395.50" y2="210.70" stroke="#111" stroke-width="1.1" />
<text x="391.10" y="213.78" font-size="8.6" text-anchor="end" fill="#222">20</text>
<line x1="392.60" y1="195.85" x2="395.50" y2="195.85" stroke="#111" stroke-width="1.1" />
<text x="391.10" y="198.93" font-size="8.6" text-anchor="end" fill="#222">25</text>
<line x1="392.60" y1="181.00" x2="395.50" y2="181.00" stroke="#111" stroke-width="1.1" />
<text x="391.10" y="184.08" font-size="8.6" text-anchor="end" fill="#222">30</text>
<line x1="392.60" y1="166.15" x2="395.50" y2="166.15" stroke="#111" stroke-width="1.1" />
<text x="391.10" y="169.23" font-size="8.6" text-anchor="end" fill="#222">35</text>
<line x1="395.50" y1="270.10" x2="500.40" y2="270.10" stroke="#111" stroke-width="1.2" />
<text x="0.00" y="0.00" font-size="8.8" text-anchor="start" fill="#222" textLength="98.10" lengthAdjust="spacingAndGlyphs" stroke="#222" stroke-width="0.18" transform="translate(376.00,265.30) rotate(-90)">JonA/PE binding (MFI x100)</text>
<rect x="400.25" y="218.48" width="7.30" height="51.62" fill="#2f4e86" stroke="#223f74" stroke-width="0.7"/>
<line x1="403.90" y1="218.13" x2="403.90" y2="214.26" stroke="#2a2a2a" stroke-width="0.95" />
<path d="M401.75 213.61 L406.05 213.61 L405.65 214.41 L404.45 215.36 L403.35 215.36 L402.15 214.41 Z" fill="#2a2a2a"/>
<rect x="410.35" y="227.39" width="7.30" height="42.71" fill="#a66a2a" stroke="#95591a" stroke-width="0.7"/>
<line x1="414.00" y1="227.04" x2="414.00" y2="208.32" stroke="#2a2a2a" stroke-width="0.95" />
<path d="M411.85 207.67 L416.15 207.67 L415.75 208.47 L414.55 209.42 L413.45 209.42 L412.25 208.47 Z" fill="#2a2a2a"/>
<text x="414.00" y="205.02" font-size="7.2" text-anchor="middle" fill="#222">ns</text>
<rect x="420.45" y="255.60" width="7.30" height="14.50" fill="#6aa848" stroke="#5a9c38" stroke-width="0.7"/>
<line x1="424.10" y1="255.25" x2="424.10" y2="251.98" stroke="#2a2a2a" stroke-width="0.95" />
<path d="M421.95 251.33 L426.25 251.33 L425.85 252.13 L424.65 253.08 L423.55 253.08 L422.35 252.13 Z" fill="#2a2a2a"/>
<circle cx="420.60" cy="248.08" r="1.05" fill="#1a1a1a"/>
<circle cx="424.10" cy="248.08" r="1.05" fill="#1a1a1a"/>
<circle cx="427.60" cy="248.08" r="1.05" fill="#1a1a1a"/>
<line x1="413.90" y1="270.10" x2="413.90" y2="273.00" stroke="#111" stroke-width="1.0" />
<rect x="435.20" y="179.87" width="7.30" height="90.24" fill="#2f4e86" stroke="#223f74" stroke-width="0.7"/>
<line x1="438.85" y1="179.52" x2="438.85" y2="174.76" stroke="#2a2a2a" stroke-width="0.95" />
<path d="M436.70 174.11 L441.00 174.11 L440.60 174.91 L439.40 175.86 L438.30 175.86 L437.10 174.91 Z" fill="#2a2a2a"/>
<rect x="445.30" y="183.43" width="7.30" height="86.67" fill="#a66a2a" stroke="#95591a" stroke-width="0.7"/>
<line x1="448.95" y1="183.08" x2="448.95" y2="181.00" stroke="#2a2a2a" stroke-width="0.95" />
<path d="M446.80 180.35 L451.10 180.35 L450.70 181.15 L449.50 182.10 L448.40 182.10 L447.20 181.15 Z" fill="#2a2a2a"/>
<text x="448.95" y="177.70" font-size="7.2" text-anchor="middle" fill="#222">ns</text>
<rect x="455.40" y="227.39" width="7.30" height="42.71" fill="#6aa848" stroke="#5a9c38" stroke-width="0.7"/>
<line x1="459.05" y1="227.04" x2="459.05" y2="224.96" stroke="#2a2a2a" stroke-width="0.95" />
<path d="M456.90 224.31 L461.20 224.31 L460.80 225.11 L459.60 226.06 L458.50 226.06 L457.30 225.11 Z" fill="#2a2a2a"/>
<circle cx="455.55" cy="221.06" r="1.05" fill="#1a1a1a"/>
<circle cx="459.05" cy="221.06" r="1.05" fill="#1a1a1a"/>
<circle cx="462.55" cy="221.06" r="1.05" fill="#1a1a1a"/>
<line x1="448.85" y1="270.10" x2="448.85" y2="273.00" stroke="#111" stroke-width="1.0" />
<rect x="470.15" y="265.10" width="7.30" height="5.00" fill="#2f4e86" stroke="#223f74" stroke-width="0.7"/>
<line x1="473.80" y1="264.75" x2="473.80" y2="264.16" stroke="#2a2a2a" stroke-width="0.95" />
<path d="M471.65 263.51 L475.95 263.51 L475.55 264.31 L474.35 265.26 L473.25 265.26 L472.05 264.31 Z" fill="#2a2a2a"/>
<rect x="480.25" y="265.10" width="7.30" height="5.00" fill="#a66a2a" stroke="#95591a" stroke-width="0.7"/>
<line x1="483.90" y1="264.75" x2="483.90" y2="264.16" stroke="#2a2a2a" stroke-width="0.95" />
<path d="M481.75 263.51 L486.05 263.51 L485.65 264.31 L484.45 265.26 L483.35 265.26 L482.15 264.31 Z" fill="#2a2a2a"/>
<text x="483.90" y="260.86" font-size="7.2" text-anchor="middle" fill="#222">ns</text>
<rect x="490.35" y="265.70" width="7.30" height="4.40" fill="#6aa848" stroke="#5a9c38" stroke-width="0.7"/>
<line x1="494.00" y1="265.35" x2="494.00" y2="264.75" stroke="#2a2a2a" stroke-width="0.95" />
<path d="M491.85 264.10 L496.15 264.10 L495.75 264.90 L494.55 265.85 L493.45 265.85 L492.25 264.90 Z" fill="#2a2a2a"/>
<text x="494.00" y="261.45" font-size="7.2" text-anchor="middle" fill="#222">ns</text>
<line x1="483.80" y1="270.10" x2="483.80" y2="273.00" stroke="#111" stroke-width="1.0" />
<text x="413.80" y="283.40" font-size="8.2" text-anchor="middle" fill="#222">75</text>
<text x="448.80" y="283.40" font-size="8.2" text-anchor="middle" fill="#222">500</text>
<text x="483.90" y="283.40" font-size="8.2" text-anchor="middle" fill="#222">Veh.</text>
<line x1="399.50" y1="286.50" x2="464.00" y2="286.50" stroke="#2e2e2e" stroke-width="1.15" />
<text x="405.20" y="296.00" font-size="7.4" text-anchor="start" fill="#222" textLength="53.00" lengthAdjust="spacingAndGlyphs" stroke="#222" stroke-width="0.15">PAR4-AP (µM)</text>
<rect x="463.10" y="149.80" width="7.20" height="7.80" fill="#2f4e86" />
<text x="473.60" y="156.40" font-size="8.0" text-anchor="start" fill="#222" font-style="italic" textLength="25.90" lengthAdjust="spacingAndGlyphs">Control</text>
<rect x="463.10" y="162.90" width="7.20" height="7.80" fill="#a66a2a" />
<text x="473.60" y="169.50" font-size="8.0" text-anchor="start" fill="#222" font-style="italic" textLength="34.60" lengthAdjust="spacingAndGlyphs">Tln1-R35E</text>
<rect x="463.10" y="176.00" width="7.20" height="7.80" fill="#6aa848" />
<text x="473.60" y="182.60" font-size="8.0" text-anchor="start" fill="#222" font-style="italic" textLength="39.30" lengthAdjust="spacingAndGlyphs">Tln1-R118E</text>
<line x1="48.20" y1="317.90" x2="48.20" y2="425.20" stroke="#111" stroke-width="1.2" />
<line x1="45.30" y1="424.70" x2="48.20" y2="424.70" stroke="#111" stroke-width="1.1" />
<text x="42.80" y="427.78" font-size="8.6" text-anchor="end" fill="#222">0</text>
<line x1="45.30" y1="409.86" x2="48.20" y2="409.86" stroke="#111" stroke-width="1.1" />
<text x="42.80" y="412.94" font-size="8.6" text-anchor="end" fill="#222">5</text>
<line x1="45.30" y1="395.02" x2="48.20" y2="395.02" stroke="#111" stroke-width="1.1" />
<text x="42.80" y="398.10" font-size="8.6" text-anchor="end" fill="#222">10</text>
<line x1="45.30" y1="380.18" x2="48.20" y2="380.18" stroke="#111" stroke-width="1.1" />
<text x="42.80" y="383.26" font-size="8.6" text-anchor="end" fill="#222">15</text>
<line x1="45.30" y1="365.34" x2="48.20" y2="365.34" stroke="#111" stroke-width="1.1" />
<text x="42.80" y="368.42" font-size="8.6" text-anchor="end" fill="#222">20</text>
<line x1="45.30" y1="350.50" x2="48.20" y2="350.50" stroke="#111" stroke-width="1.1" />
<text x="42.80" y="353.58" font-size="8.6" text-anchor="end" fill="#222">25</text>
<line x1="45.30" y1="335.66" x2="48.20" y2="335.66" stroke="#111" stroke-width="1.1" />
<text x="42.80" y="338.74" font-size="8.6" text-anchor="end" fill="#222">30</text>
<line x1="45.30" y1="320.82" x2="48.20" y2="320.82" stroke="#111" stroke-width="1.1" />
<text x="42.80" y="323.90" font-size="8.6" text-anchor="end" fill="#222">35</text>
<line x1="48.20" y1="424.70" x2="192.60" y2="424.70" stroke="#111" stroke-width="1.2" />
<text x="0.00" y="0.00" font-size="8.8" text-anchor="start" fill="#222" textLength="97.40" lengthAdjust="spacingAndGlyphs" stroke="#222" stroke-width="0.18" transform="translate(27.90,420.00) rotate(-90)">JonA/PE binding (MFI x100)</text>
<rect x="52.95" y="403.68" width="7.20" height="21.02" fill="#2f4e86" stroke="#223f74" stroke-width="0.7"/>
<rect x="62.95" y="415.85" width="7.20" height="8.85" fill="#6aa848" stroke="#5a9c38" stroke-width="0.7"/>
<line x1="56.55" y1="403.33" x2="56.55" y2="401.55" stroke="#2a2a2a" stroke-width="0.95" />
<path d="M54.40 400.90 L58.70 400.90 L58.30 401.70 L57.10 402.65 L56.00 402.65 L54.80 401.70 Z" fill="#2a2a2a"/>
<line x1="66.55" y1="415.50" x2="66.55" y2="414.76" stroke="#2a2a2a" stroke-width="0.95" />
<path d="M64.40 414.11 L68.70 414.11 L68.30 414.91 L67.10 415.86 L66.00 415.86 L64.80 414.91 Z" fill="#2a2a2a"/>
<circle cx="66.55" cy="410.86" r="1.05" fill="#1a1a1a"/>
<line x1="61.50" y1="424.70" x2="61.50" y2="427.60" stroke="#111" stroke-width="1.0" />
<rect x="76.97" y="400.42" width="7.20" height="24.28" fill="#2f4e86" stroke="#223f74" stroke-width="0.7"/>
<rect x="86.97" y="415.26" width="7.20" height="9.44" fill="#6aa848" stroke="#5a9c38" stroke-width="0.7"/>
<line x1="80.57" y1="400.07" x2="80.57" y2="397.69" stroke="#2a2a2a" stroke-width="0.95" />
<path d="M78.42 397.04 L82.72 397.04 L82.32 397.84 L81.12 398.79 L80.02 398.79 L78.82 397.84 Z" fill="#2a2a2a"/>
<line x1="90.57" y1="414.91" x2="90.57" y2="414.16" stroke="#2a2a2a" stroke-width="0.95" />
<path d="M88.42 413.51 L92.72 413.51 L92.32 414.31 L91.12 415.26 L90.02 415.26 L88.82 414.31 Z" fill="#2a2a2a"/>
<circle cx="87.07" cy="410.26" r="1.05" fill="#1a1a1a"/>
<circle cx="90.57" cy="410.26" r="1.05" fill="#1a1a1a"/>
<circle cx="94.07" cy="410.26" r="1.05" fill="#1a1a1a"/>
<line x1="85.52" y1="424.70" x2="85.52" y2="427.60" stroke="#111" stroke-width="1.0" />
<rect x="100.99" y="366.58" width="7.20" height="58.12" fill="#2f4e86" stroke="#223f74" stroke-width="0.7"/>
<rect x="110.99" y="396.85" width="7.20" height="27.85" fill="#6aa848" stroke="#5a9c38" stroke-width="0.7"/>
<line x1="104.59" y1="366.23" x2="104.59" y2="361.78" stroke="#2a2a2a" stroke-width="0.95" />
<path d="M102.44 361.13 L106.74 361.13 L106.34 361.93 L105.14 362.88 L104.04 362.88 L102.84 361.93 Z" fill="#2a2a2a"/>
<line x1="114.59" y1="396.50" x2="114.59" y2="393.24" stroke="#2a2a2a" stroke-width="0.95" />
<path d="M112.44 392.59 L116.74 392.59 L116.34 393.39 L115.14 394.34 L114.04 394.34 L112.84 393.39 Z" fill="#2a2a2a"/>
<circle cx="111.09" cy="389.34" r="1.05" fill="#1a1a1a"/>
<circle cx="114.59" cy="389.34" r="1.05" fill="#1a1a1a"/>
<circle cx="118.09" cy="389.34" r="1.05" fill="#1a1a1a"/>
<line x1="109.54" y1="424.70" x2="109.54" y2="427.60" stroke="#111" stroke-width="1.0" />
<rect x="125.01" y="346.69" width="7.20" height="78.01" fill="#2f4e86" stroke="#223f74" stroke-width="0.7"/>
<rect x="135.01" y="384.69" width="7.20" height="40.01" fill="#6aa848" stroke="#5a9c38" stroke-width="0.7"/>
<line x1="128.61" y1="346.34" x2="128.61" y2="342.19" stroke="#2a2a2a" stroke-width="0.95" />
<path d="M126.46 341.54 L130.76 341.54 L130.36 342.34 L129.16 343.29 L128.06 343.29 L126.86 342.34 Z" fill="#2a2a2a"/>
<line x1="138.61" y1="384.34" x2="138.61" y2="381.37" stroke="#2a2a2a" stroke-width="0.95" />
<path d="M136.46 380.72 L140.76 380.72 L140.36 381.52 L139.16 382.47 L138.06 382.47 L136.86 381.52 Z" fill="#2a2a2a"/>
<circle cx="135.11" cy="377.47" r="1.05" fill="#1a1a1a"/>
<circle cx="138.61" cy="377.47" r="1.05" fill="#1a1a1a"/>
<circle cx="142.11" cy="377.47" r="1.05" fill="#1a1a1a"/>
<line x1="133.56" y1="424.70" x2="133.56" y2="427.60" stroke="#111" stroke-width="1.0" />
<rect x="149.03" y="344.91" width="7.20" height="79.79" fill="#2f4e86" stroke="#223f74" stroke-width="0.7"/>
<rect x="159.03" y="384.39" width="7.20" height="40.31" fill="#6aa848" stroke="#5a9c38" stroke-width="0.7"/>
<line x1="152.63" y1="344.56" x2="152.63" y2="340.71" stroke="#2a2a2a" stroke-width="0.95" />
<path d="M150.48 340.06 L154.78 340.06 L154.38 340.86 L153.18 341.81 L152.08 341.81 L150.88 340.86 Z" fill="#2a2a2a"/>
<line x1="162.63" y1="384.04" x2="162.63" y2="381.66" stroke="#2a2a2a" stroke-width="0.95" />
<path d="M160.48 381.01 L164.78 381.01 L164.38 381.81 L163.18 382.76 L162.08 382.76 L160.88 381.81 Z" fill="#2a2a2a"/>
<circle cx="159.13" cy="377.76" r="1.05" fill="#1a1a1a"/>
<circle cx="162.63" cy="377.76" r="1.05" fill="#1a1a1a"/>
<circle cx="166.13" cy="377.76" r="1.05" fill="#1a1a1a"/>
<line x1="157.58" y1="424.70" x2="157.58" y2="427.60" stroke="#111" stroke-width="1.0" />
<rect x="173.05" y="419.41" width="7.20" height="5.29" fill="#2f4e86" stroke="#223f74" stroke-width="0.7"/>
<rect x="183.05" y="420.00" width="7.20" height="4.70" fill="#6aa848" stroke="#5a9c38" stroke-width="0.7"/>
<line x1="176.65" y1="419.06" x2="176.65" y2="418.62" stroke="#2a2a2a" stroke-width="0.95" />
<path d="M174.50 417.97 L178.80 417.97 L178.40 418.77 L177.20 419.72 L176.10 419.72 L174.90 418.77 Z" fill="#2a2a2a"/>
<line x1="186.65" y1="419.65" x2="186.65" y2="419.21" stroke="#2a2a2a" stroke-width="0.95" />
<path d="M184.50 418.56 L188.80 418.56 L188.40 419.36 L187.20 420.31 L186.10 420.31 L184.90 419.36 Z" fill="#2a2a2a"/>
<text x="186.65" y="415.91" font-size="7.2" text-anchor="middle" fill="#222">ns</text>
<line x1="181.60" y1="424.70" x2="181.60" y2="427.60" stroke="#111" stroke-width="1.0" />
<text x="61.20" y="437.80" font-size="8.2" text-anchor="middle" fill="#222">5</text>
<text x="85.20" y="437.80" font-size="8.2" text-anchor="middle" fill="#222">50</text>
<text x="109.70" y="437.80" font-size="8.2" text-anchor="middle" fill="#222">0.1</text>
<text x="133.40" y="437.80" font-size="8.2" text-anchor="middle" fill="#222">0.5</text>
<text x="157.30" y="437.80" font-size="8.2" text-anchor="middle" fill="#222">1</text>
<text x="181.40" y="437.80" font-size="8.2" text-anchor="middle" fill="#222">Veh.</text>
<line x1="51.50" y1="441.50" x2="94.30" y2="441.50" stroke="#2e2e2e" stroke-width="1.15" />
<line x1="100.60" y1="441.50" x2="167.20" y2="441.50" stroke="#2e2e2e" stroke-width="1.15" />
<text x="55.20" y="449.90" font-size="7.4" text-anchor="start" fill="#222" textLength="36.00" lengthAdjust="spacingAndGlyphs" stroke="#222" stroke-width="0.15">ADP (µM)</text>
<text x="101.70" y="449.90" font-size="7.4" text-anchor="start" fill="#222" textLength="65.20" lengthAdjust="spacingAndGlyphs" stroke="#222" stroke-width="0.15">Convulxin (µg/ml)</text>
<line x1="244.80" y1="317.90" x2="244.80" y2="425.40" stroke="#111" stroke-width="1.2" />
<line x1="241.90" y1="424.90" x2="244.80" y2="424.90" stroke="#111" stroke-width="1.1" />
<text x="239.30" y="427.98" font-size="8.6" text-anchor="end" fill="#222">0</text>
<line x1="241.90" y1="398.88" x2="244.80" y2="398.88" stroke="#111" stroke-width="1.1" />
<text x="239.30" y="401.96" font-size="8.6" text-anchor="end" fill="#222">2</text>
<line x1="241.90" y1="372.86" x2="244.80" y2="372.86" stroke="#111" stroke-width="1.1" />
<text x="239.30" y="375.94" font-size="8.6" text-anchor="end" fill="#222">4</text>
<line x1="241.90" y1="346.84" x2="244.80" y2="346.84" stroke="#111" stroke-width="1.1" />
<text x="239.30" y="349.92" font-size="8.6" text-anchor="end" fill="#222">6</text>
<line x1="241.90" y1="320.82" x2="244.80" y2="320.82" stroke="#111" stroke-width="1.1" />
<text x="239.30" y="323.90" font-size="8.6" text-anchor="end" fill="#222">8</text>
<line x1="244.80" y1="424.90" x2="438.80" y2="424.90" stroke="#111" stroke-width="1.2" />
<text x="0.00" y="0.00" font-size="9.6" text-anchor="start" fill="#222" textLength="111.50" lengthAdjust="spacingAndGlyphs" stroke="#222" stroke-width="0.18" transform="translate(228.80,427.10) rotate(-90)">9EG7/AF488 binding (MFI x100)</text>
<rect x="249.05" y="351.74" width="7.30" height="73.16" fill="#2f4e86" stroke="#223f74" stroke-width="0.7"/>
<rect x="259.35" y="390.38" width="7.30" height="34.52" fill="#6aa848" stroke="#5a9c38" stroke-width="0.7"/>
<line x1="252.70" y1="351.39" x2="252.70" y2="347.49" stroke="#2a2a2a" stroke-width="0.95" />
<path d="M250.55 346.84 L254.85 346.84 L254.45 347.64 L253.25 348.59 L252.15 348.59 L250.95 347.64 Z" fill="#2a2a2a"/>
<line x1="263.00" y1="390.03" x2="263.00" y2="388.08" stroke="#2a2a2a" stroke-width="0.95" />
<path d="M260.85 387.43 L265.15 387.43 L264.75 388.23 L263.55 389.18 L262.45 389.18 L261.25 388.23 Z" fill="#2a2a2a"/>
<circle cx="259.50" cy="384.18" r="1.05" fill="#1a1a1a"/>
<circle cx="263.00" cy="384.18" r="1.05" fill="#1a1a1a"/>
<circle cx="266.50" cy="384.18" r="1.05" fill="#1a1a1a"/>
<line x1="257.85" y1="424.90" x2="257.85" y2="427.80" stroke="#111" stroke-width="1.0" />
<rect x="273.28" y="339.38" width="7.30" height="85.52" fill="#2f4e86" stroke="#223f74" stroke-width="0.7"/>
<rect x="283.58" y="382.32" width="7.30" height="42.58" fill="#6aa848" stroke="#5a9c38" stroke-width="0.7"/>
<line x1="276.93" y1="339.03" x2="276.93" y2="334.09" stroke="#2a2a2a" stroke-width="0.95" />
<path d="M274.78 333.44 L279.08 333.44 L278.68 334.24 L277.48 335.19 L276.38 335.19 L275.18 334.24 Z" fill="#2a2a2a"/>
<line x1="287.23" y1="381.97" x2="287.23" y2="379.50" stroke="#2a2a2a" stroke-width="0.95" />
<path d="M285.08 378.85 L289.38 378.85 L288.98 379.65 L287.78 380.60 L286.68 380.60 L285.48 379.65 Z" fill="#2a2a2a"/>
<circle cx="283.73" cy="375.60" r="1.05" fill="#1a1a1a"/>
<circle cx="287.23" cy="375.60" r="1.05" fill="#1a1a1a"/>
<circle cx="290.73" cy="375.60" r="1.05" fill="#1a1a1a"/>
<line x1="282.08" y1="424.90" x2="282.08" y2="427.80" stroke="#111" stroke-width="1.0" />
<rect x="297.51" y="385.83" width="7.30" height="39.07" fill="#2f4e86" stroke="#223f74" stroke-width="0.7"/>
<rect x="307.81" y="400.92" width="7.30" height="23.98" fill="#6aa848" stroke="#5a9c38" stroke-width="0.7"/>
<line x1="301.16" y1="385.48" x2="301.16" y2="383.27" stroke="#2a2a2a" stroke-width="0.95" />
<path d="M299.01 382.62 L303.31 382.62 L302.91 383.42 L301.71 384.37 L300.61 384.37 L299.41 383.42 Z" fill="#2a2a2a"/>
<line x1="311.46" y1="400.57" x2="311.46" y2="399.01" stroke="#2a2a2a" stroke-width="0.95" />
<path d="M309.31 398.36 L313.61 398.36 L313.21 399.16 L312.01 400.11 L310.91 400.11 L309.71 399.16 Z" fill="#2a2a2a"/>
<circle cx="311.46" cy="395.11" r="1.05" fill="#1a1a1a"/>
<line x1="306.31" y1="424.90" x2="306.31" y2="427.80" stroke="#111" stroke-width="1.0" />
<rect x="321.74" y="381.93" width="7.30" height="42.97" fill="#2f4e86" stroke="#223f74" stroke-width="0.7"/>
<rect x="332.04" y="399.62" width="7.30" height="25.28" fill="#6aa848" stroke="#5a9c38" stroke-width="0.7"/>
<line x1="325.39" y1="381.58" x2="325.39" y2="378.19" stroke="#2a2a2a" stroke-width="0.95" />
<path d="M323.24 377.54 L327.54 377.54 L327.14 378.34 L325.94 379.29 L324.84 379.29 L323.64 378.34 Z" fill="#2a2a2a"/>
<line x1="335.69" y1="399.27" x2="335.69" y2="398.23" stroke="#2a2a2a" stroke-width="0.95" />
<path d="M333.54 397.58 L337.84 397.58 L337.44 398.38 L336.24 399.33 L335.14 399.33 L333.94 398.38 Z" fill="#2a2a2a"/>
<circle cx="335.69" cy="394.33" r="1.05" fill="#1a1a1a"/>
<line x1="330.54" y1="424.90" x2="330.54" y2="427.80" stroke="#111" stroke-width="1.0" />
<rect x="345.97" y="347.19" width="7.30" height="77.71" fill="#2f4e86" stroke="#223f74" stroke-width="0.7"/>
<rect x="356.27" y="382.32" width="7.30" height="42.58" fill="#6aa848" stroke="#5a9c38" stroke-width="0.7"/>
<line x1="349.62" y1="346.84" x2="349.62" y2="344.24" stroke="#2a2a2a" stroke-width="0.95" />
<path d="M347.47 343.59 L351.77 343.59 L351.37 344.39 L350.17 345.34 L349.07 345.34 L347.87 344.39 Z" fill="#2a2a2a"/>
<line x1="359.92" y1="381.97" x2="359.92" y2="379.50" stroke="#2a2a2a" stroke-width="0.95" />
<path d="M357.77 378.85 L362.07 378.85 L361.67 379.65 L360.47 380.60 L359.37 380.60 L358.17 379.65 Z" fill="#2a2a2a"/>
<circle cx="356.42" cy="375.60" r="1.05" fill="#1a1a1a"/>
<circle cx="359.92" cy="375.60" r="1.05" fill="#1a1a1a"/>
<circle cx="363.42" cy="375.60" r="1.05" fill="#1a1a1a"/>
<line x1="354.77" y1="424.90" x2="354.77" y2="427.80" stroke="#111" stroke-width="1.0" />
<rect x="370.20" y="347.19" width="7.30" height="77.71" fill="#2f4e86" stroke="#223f74" stroke-width="0.7"/>
<rect x="380.50" y="371.91" width="7.30" height="52.99" fill="#6aa848" stroke="#5a9c38" stroke-width="0.7"/>
<line x1="373.85" y1="346.84" x2="373.85" y2="339.29" stroke="#2a2a2a" stroke-width="0.95" />
<path d="M371.70 338.64 L376.00 338.64 L375.60 339.44 L374.40 340.39 L373.30 340.39 L372.10 339.44 Z" fill="#2a2a2a"/>
<line x1="384.15" y1="371.56" x2="384.15" y2="362.45" stroke="#2a2a2a" stroke-width="0.95" />
<path d="M382.00 361.80 L386.30 361.80 L385.90 362.60 L384.70 363.55 L383.60 363.55 L382.40 362.60 Z" fill="#2a2a2a"/>
<circle cx="380.65" cy="358.55" r="1.05" fill="#1a1a1a"/>
<circle cx="384.15" cy="358.55" r="1.05" fill="#1a1a1a"/>
<circle cx="387.65" cy="358.55" r="1.05" fill="#1a1a1a"/>
<line x1="379.00" y1="424.90" x2="379.00" y2="427.80" stroke="#111" stroke-width="1.0" />
<rect x="394.43" y="344.59" width="7.30" height="80.31" fill="#2f4e86" stroke="#223f74" stroke-width="0.7"/>
<rect x="404.73" y="382.97" width="7.30" height="41.93" fill="#6aa848" stroke="#5a9c38" stroke-width="0.7"/>
<line x1="398.08" y1="344.24" x2="398.08" y2="339.81" stroke="#2a2a2a" stroke-width="0.95" />
<path d="M395.93 339.16 L400.23 339.16 L399.83 339.96 L398.63 340.91 L397.53 340.91 L396.33 339.96 Z" fill="#2a2a2a"/>
<line x1="408.38" y1="382.62" x2="408.38" y2="381.19" stroke="#2a2a2a" stroke-width="0.95" />
<path d="M406.23 380.54 L410.53 380.54 L410.13 381.34 L408.93 382.29 L407.83 382.29 L406.63 381.34 Z" fill="#2a2a2a"/>
<circle cx="404.88" cy="377.29" r="1.05" fill="#1a1a1a"/>
<circle cx="408.38" cy="377.29" r="1.05" fill="#1a1a1a"/>
<circle cx="411.88" cy="377.29" r="1.05" fill="#1a1a1a"/>
<line x1="403.23" y1="424.90" x2="403.23" y2="427.80" stroke="#111" stroke-width="1.0" />
<rect x="418.66" y="406.00" width="7.30" height="18.90" fill="#2f4e86" stroke="#223f74" stroke-width="0.7"/>
<rect x="428.96" y="407.04" width="7.30" height="17.86" fill="#6aa848" stroke="#5a9c38" stroke-width="0.7"/>
<line x1="422.31" y1="405.65" x2="422.31" y2="404.73" stroke="#2a2a2a" stroke-width="0.95" />
<path d="M420.16 404.08 L424.46 404.08 L424.06 404.88 L422.86 405.83 L421.76 405.83 L420.56 404.88 Z" fill="#2a2a2a"/>
<line x1="432.61" y1="406.69" x2="432.61" y2="405.91" stroke="#2a2a2a" stroke-width="0.95" />
<path d="M430.46 405.26 L434.76 405.26 L434.36 406.06 L433.16 407.01 L432.06 407.01 L430.86 406.06 Z" fill="#2a2a2a"/>
<text x="432.61" y="402.61" font-size="7.2" text-anchor="middle" fill="#222">ns</text>
<line x1="427.46" y1="424.90" x2="427.46" y2="427.80" stroke="#111" stroke-width="1.0" />
<text x="258.30" y="438.00" font-size="8.2" text-anchor="middle" fill="#222">75</text>
<text x="281.90" y="438.00" font-size="8.2" text-anchor="middle" fill="#222">500</text>
<text x="306.30" y="438.00" font-size="8.2" text-anchor="middle" fill="#222">5</text>
<text x="330.40" y="438.00" font-size="8.2" text-anchor="middle" fill="#222">50</text>
<text x="354.30" y="438.00" font-size="8.2" text-anchor="middle" fill="#222">0.1</text>
<text x="378.80" y="438.00" font-size="8.2" text-anchor="middle" fill="#222">0.5</text>
<text x="403.00" y="438.00" font-size="8.2" text-anchor="middle" fill="#222">1</text>
<text x="426.80" y="438.00" font-size="8.2" text-anchor="middle" fill="#222">Veh.</text>
<line x1="248.70" y1="442.50" x2="291.50" y2="442.50" stroke="#2e2e2e" stroke-width="1.15" />
<line x1="297.20" y1="442.50" x2="339.60" y2="442.50" stroke="#2e2e2e" stroke-width="1.15" />
<line x1="345.40" y1="442.50" x2="412.60" y2="442.50" stroke="#2e2e2e" stroke-width="1.15" />
<text x="244.30" y="451.40" font-size="7.4" text-anchor="start" fill="#222" textLength="52.00" lengthAdjust="spacingAndGlyphs" stroke="#222" stroke-width="0.15">PAR4-AP (µM)</text>
<text x="301.00" y="451.40" font-size="7.4" text-anchor="start" fill="#222" textLength="35.50" lengthAdjust="spacingAndGlyphs" stroke="#222" stroke-width="0.15">ADP (µM)</text>
<text x="346.00" y="451.40" font-size="7.4" text-anchor="start" fill="#222" textLength="65.30" lengthAdjust="spacingAndGlyphs" stroke="#222" stroke-width="0.15">Convulxin (µg/ml)</text>
</svg>
</body></html>
